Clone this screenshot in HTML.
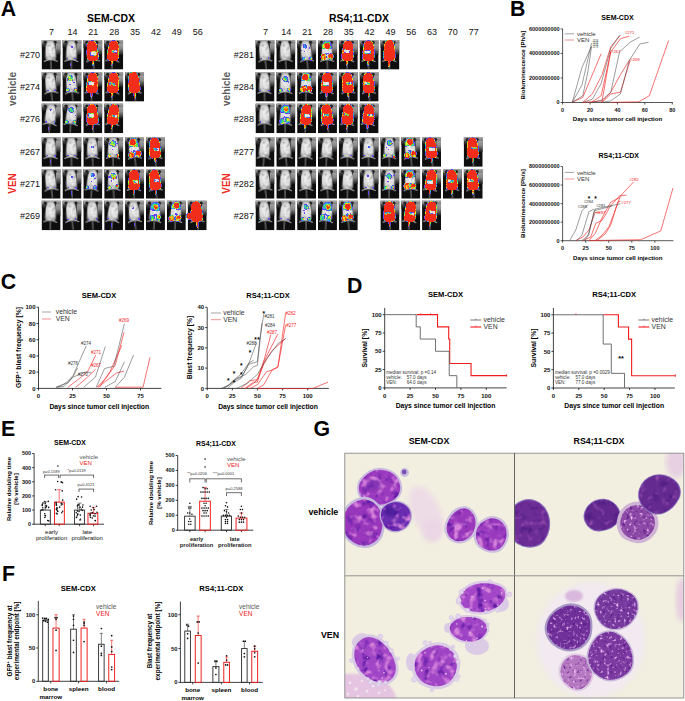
<!DOCTYPE html><html><head><meta charset="utf-8"><title>Figure</title><style>html,body{margin:0;padding:0;background:#fff;}svg{display:block;font-family:"Liberation Sans",sans-serif;}</style></head><body>
<svg width="685" height="701" viewBox="0 0 685 701">
<defs><linearGradient id="mgTop" x1="0" y1="0" x2="0" y2="1"><stop offset="0" stop-color="#aaaaaa"/><stop offset="1" stop-color="#7a7a7a"/></linearGradient><linearGradient id="mgR" x1="0" y1="0" x2="0" y2="1"><stop offset="0" stop-color="#b0b0b0"/><stop offset="0.55" stop-color="#8a8a8a"/><stop offset="1" stop-color="#1a1a1a"/></linearGradient><linearGradient id="mgL" x1="0" y1="0" x2="0" y2="1"><stop offset="0" stop-color="#777"/><stop offset="1" stop-color="#111"/></linearGradient><radialGradient id="mgBody" cx="0.5" cy="0.5" r="0.62"><stop offset="0" stop-color="#f4f4f4"/><stop offset="0.62" stop-color="#dcdcdc"/><stop offset="1" stop-color="#8c8c8c"/></radialGradient><linearGradient id="mgTail" x1="0" y1="0" x2="0" y2="1"><stop offset="0" stop-color="#d8d8d8"/><stop offset="1" stop-color="#a0a0a0"/></linearGradient><filter id="mblur" color-interpolation-filters="sRGB" x="-5%" y="-5%" width="110%" height="110%"><feTurbulence type="fractalNoise" baseFrequency="0.3" numOctaves="1" seed="3" result="n"/><feColorMatrix in="n" type="matrix" values="0 0 0 0 0.45  0 0 0 0 0.45  0 0 0 0 0.45  -1.6 0 0 0 0.85" result="d"/><feComposite in="d" in2="SourceGraphic" operator="in" result="d2"/><feMerge result="mm"><feMergeNode in="SourceGraphic"/><feMergeNode in="d2"/></feMerge><feGaussianBlur in="mm" stdDeviation="0.4"/></filter><filter id="heat" color-interpolation-filters="sRGB" x="-20%" y="-20%" width="140%" height="140%"><feGaussianBlur in="SourceGraphic" stdDeviation="0.7" result="b"/><feTurbulence type="fractalNoise" baseFrequency="0.45" numOctaves="2" seed="7" result="n"/><feComposite in="b" in2="n" operator="arithmetic" k1="1.5" k2="0.3" k3="0" k4="0" result="m"/><feColorMatrix in="m" type="matrix" values="0 0 0 1 0  0 0 0 1 0  0 0 0 1 0  0 0 0 1 0" result="g"/><feComponentTransfer in="g"><feFuncR type="table" tableValues="0.00 0.55 0.55 0.55 0.40 0.25 0.20 0.25 0.95 1.00 0.95 0.95 0.95 0.95 0.95 0.95 0.95"/><feFuncG type="table" tableValues="0.00 0.30 0.30 0.30 0.25 0.30 0.70 0.90 0.95 0.55 0.18 0.18 0.18 0.18 0.18 0.18 0.18"/><feFuncB type="table" tableValues="0.00 0.95 0.95 0.95 0.95 0.95 0.90 0.30 0.15 0.10 0.10 0.10 0.10 0.10 0.10 0.10 0.10"/><feFuncA type="discrete" tableValues="0 0 1 1 1 1 1 1 1 1"/></feComponentTransfer></filter><symbol id="mbg" viewBox="0 0 19 29.7" width="19" height="29.7"><rect width="19" height="29.7" fill="#0e0e0e"/><rect x="14.2" y="0" width="4.8" height="15" fill="url(#mgR)"/><rect x="0" y="0" width="4.0" height="8" fill="url(#mgL)"/><rect width="19" height="3.6" fill="url(#mgTop)"/><ellipse cx="3.6" cy="2.4" rx="1.7" ry="1.5" fill="#222"/><ellipse cx="13.4" cy="2.4" rx="1.7" ry="1.5" fill="#222"/></symbol><symbol id="mbody" viewBox="0 0 19 29.7" width="19" height="29.7" overflow="visible"><path d="M2.0 21.4 L6.5 20.0 M15.8 21.6 L11.5 20.0" stroke="#cdcdcd" stroke-width="1.0" fill="none"/><line x1="9.0" y1="21.2" x2="9.2" y2="29.7" stroke="url(#mgTail)" stroke-width="0.7"/><path d="M9 0.8 C7.2 0.8 6.0 1.5 5.3 2.9 C4.5 4.3 4.1 6 4.0 8 C3.8 11 3.6 14 3.5 17 C3.5 19.2 4.4 20.4 6.5 20.6 L11.5 20.6 C13.6 20.4 14.5 19.2 14.5 17 C14.4 14 14.2 11 14.0 8 C13.9 6 13.5 4.3 12.7 2.9 C12.0 1.5 10.8 0.8 9 0.8Z" fill="url(#mgBody)"/></symbol></defs>
<text x="0.80" y="15.90" font-size="21.3" font-weight="bold" text-anchor="start" fill="#000">A</text>
<text x="111.00" y="21.60" font-size="10.4" font-weight="bold" text-anchor="middle" fill="#000">SEM-CDX</text>
<text x="51.60" y="35.40" font-size="9" text-anchor="middle" fill="#111">7</text>
<text x="72.47" y="35.40" font-size="9" text-anchor="middle" fill="#111">14</text>
<text x="93.34" y="35.40" font-size="9" text-anchor="middle" fill="#111">21</text>
<text x="114.21" y="35.40" font-size="9" text-anchor="middle" fill="#111">28</text>
<text x="135.08" y="35.40" font-size="9" text-anchor="middle" fill="#111">35</text>
<text x="155.95" y="35.40" font-size="9" text-anchor="middle" fill="#111">42</text>
<text x="176.82" y="35.40" font-size="9" text-anchor="middle" fill="#111">49</text>
<text x="197.69" y="35.40" font-size="9" text-anchor="middle" fill="#111">56</text>
<g transform="translate(41.60 39.90)"><use href="#mbg"/><g transform="rotate(-1.4 9 12)"><g filter="url(#mblur)"><use href="#mbody"/></g></g></g>
<g transform="translate(62.47 39.90)"><use href="#mbg"/><g transform="rotate(0.6 9 12)"><g filter="url(#mblur)"><use href="#mbody"/></g><g filter="url(#heat)"><ellipse cx="8.60" cy="24.50" rx="0.60" ry="2.40" fill="#fff" fill-opacity="0.35"/><ellipse cx="5.34" cy="18.60" rx="1.10" ry="1.10" fill="#fff" fill-opacity="0.42"/><ellipse cx="12.68" cy="18.60" rx="1.10" ry="1.10" fill="#fff" fill-opacity="0.42"/><ellipse cx="9.70" cy="6.77" rx="1.20" ry="1.40" fill="#fff" fill-opacity="0.33"/></g></g></g>
<g transform="translate(83.34 39.90)"><use href="#mbg"/><g transform="rotate(-4.9 9 12)"><g filter="url(#mblur)"><use href="#mbody"/></g><g filter="url(#heat)"><path d="M9.00,0.60 L7.00,1.00 L5.20,2.70 L4.10,5.00 L3.80,8.00 L3.70,11.68 L14.30,11.68 L14.20,8.00 L13.90,5.00 L12.80,2.70 L11.00,1.00Z" fill="#fff" fill-opacity="1.00"/><path d="M3.60,15.82 L3.40,17.00 L3.70,19.30 L4.90,20.50 L6.50,21.00 L11.50,21.00 L13.10,20.50 L14.30,19.30 L14.60,17.00 L14.40,15.82Z" fill="#fff" fill-opacity="1.00"/><ellipse cx="8.70" cy="23.00" rx="0.80" ry="3.00" fill="#fff" fill-opacity="0.80"/><ellipse cx="4.30" cy="13.75" rx="0.90" ry="2.67" fill="#fff" fill-opacity="0.80"/><ellipse cx="13.70" cy="13.75" rx="0.90" ry="2.67" fill="#fff" fill-opacity="0.80"/><ellipse cx="5.40" cy="13.51" rx="1.16" ry="2.37" fill="#fff" fill-opacity="1.00"/></g></g></g>
<g transform="translate(104.21 39.90)"><use href="#mbg"/><g transform="rotate(5.1 9 12)"><g filter="url(#mblur)"><use href="#mbody"/></g><g filter="url(#heat)"><path d="M9.00,0.60 L7.00,1.00 L5.20,2.70 L4.10,5.00 L3.80,8.00 L3.70,9.82 L14.30,9.82 L14.20,8.00 L13.90,5.00 L12.80,2.70 L11.00,1.00Z" fill="#fff" fill-opacity="1.00"/><path d="M3.60,12.84 L3.40,17.00 L3.70,19.30 L4.90,20.50 L6.50,21.00 L11.50,21.00 L13.10,20.50 L14.30,19.30 L14.60,17.00 L14.40,12.84Z" fill="#fff" fill-opacity="1.00"/><ellipse cx="8.70" cy="23.00" rx="0.80" ry="3.00" fill="#fff" fill-opacity="0.80"/><ellipse cx="4.30" cy="11.33" rx="0.90" ry="2.11" fill="#fff" fill-opacity="0.80"/><ellipse cx="13.70" cy="11.33" rx="0.90" ry="2.11" fill="#fff" fill-opacity="0.80"/><ellipse cx="5.51" cy="11.10" rx="1.57" ry="1.81" fill="#fff" fill-opacity="1.00"/><ellipse cx="8.01" cy="11.33" rx="2.50" ry="1.51" fill="#fff" fill-opacity="0.45"/></g></g></g>
<text x="40.00" y="58.20" font-size="9" text-anchor="end" fill="#111">#270</text>
<g transform="translate(41.60 71.90)"><use href="#mbg"/><g transform="rotate(-5.1 9 12)"><g filter="url(#mblur)"><use href="#mbody"/></g><g filter="url(#heat)"><ellipse cx="5.78" cy="18.60" rx="1.10" ry="1.10" fill="#fff" fill-opacity="0.42"/><ellipse cx="12.75" cy="18.60" rx="1.10" ry="1.10" fill="#fff" fill-opacity="0.42"/></g></g></g>
<g transform="translate(62.47 71.90)"><use href="#mbg"/><g transform="rotate(-4.3 9 12)"><g filter="url(#mblur)"><use href="#mbody"/></g><g filter="url(#heat)"><ellipse cx="4.96" cy="17.66" rx="1.80" ry="2.00" fill="#fff" fill-opacity="0.60"/><ellipse cx="12.39" cy="18.51" rx="1.80" ry="2.00" fill="#fff" fill-opacity="0.60"/><ellipse cx="8.45" cy="6.26" rx="2.80" ry="3.20" fill="#fff" fill-opacity="0.42"/><ellipse cx="7.52" cy="12.76" rx="1.00" ry="1.00" fill="#fff" fill-opacity="0.28"/><ellipse cx="5.97" cy="7.85" rx="1.00" ry="1.20" fill="#fff" fill-opacity="0.30"/><ellipse cx="11.73" cy="10.97" rx="1.00" ry="1.20" fill="#fff" fill-opacity="0.30"/></g></g></g>
<g transform="translate(83.34 71.90)"><use href="#mbg"/><g transform="rotate(3.5 9 12)"><g filter="url(#mblur)"><use href="#mbody"/></g><g filter="url(#heat)"><path d="M9.00,0.60 L7.00,1.00 L5.20,2.70 L4.10,5.00 L3.80,8.00 L3.70,9.47 L14.30,9.47 L14.20,8.00 L13.90,5.00 L12.80,2.70 L11.00,1.00Z" fill="#fff" fill-opacity="1.00"/><path d="M3.60,13.45 L3.40,17.00 L3.70,19.30 L4.90,20.50 L6.50,21.00 L11.50,21.00 L13.10,20.50 L14.30,19.30 L14.60,17.00 L14.40,13.45Z" fill="#fff" fill-opacity="1.00"/><ellipse cx="8.70" cy="23.00" rx="0.80" ry="3.00" fill="#fff" fill-opacity="0.80"/><ellipse cx="4.30" cy="11.46" rx="0.90" ry="2.59" fill="#fff" fill-opacity="0.80"/><ellipse cx="13.70" cy="11.46" rx="0.90" ry="2.59" fill="#fff" fill-opacity="0.80"/><ellipse cx="12.34" cy="11.79" rx="1.60" ry="2.29" fill="#fff" fill-opacity="1.00"/></g></g></g>
<g transform="translate(104.21 71.90)"><use href="#mbg"/><g transform="rotate(4.9 9 12)"><g filter="url(#mblur)"><use href="#mbody"/></g><g filter="url(#heat)"><path d="M9.00,0.60 L7.00,1.00 L5.20,2.70 L4.10,5.00 L3.80,8.00 L3.70,10.59 L14.30,10.59 L14.20,8.00 L13.90,5.00 L12.80,2.70 L11.00,1.00Z" fill="#fff" fill-opacity="1.00"/><path d="M3.60,13.77 L3.40,17.00 L3.70,19.30 L4.90,20.50 L6.50,21.00 L11.50,21.00 L13.10,20.50 L14.30,19.30 L14.60,17.00 L14.40,13.77Z" fill="#fff" fill-opacity="1.00"/><ellipse cx="8.70" cy="23.00" rx="0.80" ry="3.00" fill="#fff" fill-opacity="0.80"/><ellipse cx="4.30" cy="12.18" rx="0.90" ry="2.19" fill="#fff" fill-opacity="0.80"/><ellipse cx="13.70" cy="12.18" rx="0.90" ry="2.19" fill="#fff" fill-opacity="0.80"/><ellipse cx="12.48" cy="11.69" rx="1.20" ry="1.89" fill="#fff" fill-opacity="1.00"/><ellipse cx="8.67" cy="12.18" rx="2.50" ry="1.59" fill="#fff" fill-opacity="0.45"/></g></g></g>
<g transform="translate(125.08 71.90)"><use href="#mbg"/><g transform="rotate(-4.3 9 12)"><g filter="url(#mblur)"><use href="#mbody"/></g><g filter="url(#heat)"><path d="M9.00,0.60 L7.00,1.00 L5.20,2.70 L4.10,5.00 L3.80,8.00 L3.70,12.00 L14.30,12.00 L14.20,8.00 L13.90,5.00 L12.80,2.70 L11.00,1.00Z" fill="#fff" fill-opacity="1.00"/><path d="M3.60,11.00 L3.40,17.00 L3.70,19.30 L4.90,20.50 L6.50,21.00 L11.50,21.00 L13.10,20.50 L14.30,19.30 L14.60,17.00 L14.40,11.00Z" fill="#fff" fill-opacity="1.00"/><ellipse cx="8.70" cy="23.50" rx="0.90" ry="4.00" fill="#fff" fill-opacity="0.90"/><ellipse cx="9.00" cy="2.00" rx="4.00" ry="2.00" fill="#fff" fill-opacity="0.90"/></g></g></g>
<text x="40.00" y="90.20" font-size="9" text-anchor="end" fill="#111">#274</text>
<g transform="translate(41.60 103.50)"><use href="#mbg"/><g transform="rotate(5.7 9 12)"><g filter="url(#mblur)"><use href="#mbody"/></g><g filter="url(#heat)"><ellipse cx="8.60" cy="24.50" rx="0.60" ry="2.40" fill="#fff" fill-opacity="0.35"/><ellipse cx="5.35" cy="18.60" rx="1.10" ry="1.10" fill="#fff" fill-opacity="0.42"/><ellipse cx="13.38" cy="18.60" rx="1.10" ry="1.10" fill="#fff" fill-opacity="0.42"/><ellipse cx="8.54" cy="6.31" rx="1.20" ry="1.40" fill="#fff" fill-opacity="0.33"/></g></g></g>
<g transform="translate(62.47 103.50)"><use href="#mbg"/><g transform="rotate(5.2 9 12)"><g filter="url(#mblur)"><use href="#mbody"/></g><g filter="url(#heat)"><ellipse cx="5.02" cy="18.71" rx="1.80" ry="2.00" fill="#fff" fill-opacity="0.55"/><ellipse cx="12.40" cy="18.17" rx="1.80" ry="2.00" fill="#fff" fill-opacity="0.55"/><ellipse cx="8.64" cy="6.57" rx="2.60" ry="3.00" fill="#fff" fill-opacity="0.39"/><ellipse cx="7.32" cy="11.87" rx="1.00" ry="1.00" fill="#fff" fill-opacity="0.28"/><ellipse cx="5.45" cy="6.24" rx="1.00" ry="1.20" fill="#fff" fill-opacity="0.30"/><ellipse cx="12.95" cy="11.47" rx="1.00" ry="1.20" fill="#fff" fill-opacity="0.30"/></g></g></g>
<g transform="translate(83.34 103.50)"><use href="#mbg"/><g transform="rotate(-3.1 9 12)"><g filter="url(#mblur)"><use href="#mbody"/></g><g filter="url(#heat)"><path d="M9.00,0.60 L7.00,1.00 L5.20,2.70 L4.10,5.00 L3.80,8.00 L3.70,9.79 L14.30,9.79 L14.20,8.00 L13.90,5.00 L12.80,2.70 L11.00,1.00Z" fill="#fff" fill-opacity="1.00"/><path d="M3.60,14.01 L3.40,17.00 L3.70,19.30 L4.90,20.50 L6.50,21.00 L11.50,21.00 L13.10,20.50 L14.30,19.30 L14.60,17.00 L14.40,14.01Z" fill="#fff" fill-opacity="1.00"/><ellipse cx="8.70" cy="23.00" rx="0.80" ry="3.00" fill="#fff" fill-opacity="0.80"/><ellipse cx="4.30" cy="11.90" rx="0.90" ry="2.71" fill="#fff" fill-opacity="0.80"/><ellipse cx="13.70" cy="11.90" rx="0.90" ry="2.71" fill="#fff" fill-opacity="0.80"/><ellipse cx="12.44" cy="11.97" rx="1.59" ry="2.41" fill="#fff" fill-opacity="1.00"/></g></g></g>
<g transform="translate(104.21 103.50)"><use href="#mbg"/><g transform="rotate(5.5 9 12)"><g filter="url(#mblur)"><use href="#mbody"/></g><g filter="url(#heat)"><path d="M9.00,0.60 L7.00,1.00 L5.20,2.70 L4.10,5.00 L3.80,8.00 L3.70,10.72 L14.30,10.72 L14.20,8.00 L13.90,5.00 L12.80,2.70 L11.00,1.00Z" fill="#fff" fill-opacity="1.00"/><path d="M3.60,13.74 L3.40,17.00 L3.70,19.30 L4.90,20.50 L6.50,21.00 L11.50,21.00 L13.10,20.50 L14.30,19.30 L14.60,17.00 L14.40,13.74Z" fill="#fff" fill-opacity="1.00"/><ellipse cx="8.70" cy="23.00" rx="0.80" ry="3.00" fill="#fff" fill-opacity="0.80"/><ellipse cx="4.30" cy="12.23" rx="0.90" ry="2.11" fill="#fff" fill-opacity="0.80"/><ellipse cx="13.70" cy="12.23" rx="0.90" ry="2.11" fill="#fff" fill-opacity="0.80"/><ellipse cx="5.45" cy="11.70" rx="1.30" ry="1.81" fill="#fff" fill-opacity="1.00"/><ellipse cx="8.59" cy="12.23" rx="2.50" ry="1.51" fill="#fff" fill-opacity="0.45"/></g></g></g>
<text x="40.00" y="121.80" font-size="9" text-anchor="end" fill="#111">#276</text>
<g transform="translate(41.60 137.10)"><use href="#mbg"/><g transform="rotate(-0.2 9 12)"><g filter="url(#mblur)"><use href="#mbody"/></g><g filter="url(#heat)"><ellipse cx="8.60" cy="24.50" rx="0.60" ry="2.40" fill="#fff" fill-opacity="0.35"/><ellipse cx="5.77" cy="18.60" rx="1.10" ry="1.10" fill="#fff" fill-opacity="0.42"/><ellipse cx="13.66" cy="18.60" rx="1.10" ry="1.10" fill="#fff" fill-opacity="0.42"/></g></g></g>
<g transform="translate(62.47 137.10)"><use href="#mbg"/><g transform="rotate(0.2 9 12)"><g filter="url(#mblur)"><use href="#mbody"/></g><g filter="url(#heat)"><ellipse cx="8.60" cy="24.50" rx="0.60" ry="2.40" fill="#fff" fill-opacity="0.35"/><ellipse cx="5.45" cy="18.60" rx="1.10" ry="1.10" fill="#fff" fill-opacity="0.42"/><ellipse cx="12.48" cy="18.60" rx="1.10" ry="1.10" fill="#fff" fill-opacity="0.42"/></g></g></g>
<g transform="translate(83.34 137.10)"><use href="#mbg"/><g transform="rotate(-1.2 9 12)"><g filter="url(#mblur)"><use href="#mbody"/></g><g filter="url(#heat)"><ellipse cx="5.75" cy="18.60" rx="1.10" ry="1.10" fill="#fff" fill-opacity="0.42"/><ellipse cx="12.26" cy="18.60" rx="1.10" ry="1.10" fill="#fff" fill-opacity="0.42"/><ellipse cx="9.29" cy="9.91" rx="1.20" ry="1.40" fill="#fff" fill-opacity="0.33"/></g></g></g>
<g transform="translate(104.21 137.10)"><use href="#mbg"/><g transform="rotate(1.0 9 12)"><g filter="url(#mblur)"><use href="#mbody"/></g><g filter="url(#heat)"><ellipse cx="5.26" cy="18.83" rx="1.80" ry="2.00" fill="#fff" fill-opacity="0.61"/><ellipse cx="13.57" cy="18.64" rx="1.80" ry="2.00" fill="#fff" fill-opacity="0.61"/><ellipse cx="8.87" cy="6.56" rx="2.85" ry="3.25" fill="#fff" fill-opacity="0.43"/><ellipse cx="8.50" cy="12.13" rx="1.00" ry="1.00" fill="#fff" fill-opacity="0.28"/><ellipse cx="5.33" cy="7.15" rx="1.00" ry="1.20" fill="#fff" fill-opacity="0.30"/><ellipse cx="13.40" cy="6.37" rx="1.00" ry="1.20" fill="#fff" fill-opacity="0.30"/></g></g></g>
<g transform="translate(125.08 137.10)"><use href="#mbg"/><g transform="rotate(-5.4 9 12)"><g filter="url(#mblur)"><use href="#mbody"/></g><g filter="url(#heat)"><path d="M9.00,0.60 L7.00,1.00 L5.20,2.70 L4.10,5.00 L3.80,8.00 L3.70,10.31 L14.30,10.31 L14.20,8.00 L13.90,5.00 L12.80,2.70 L11.00,1.00Z" fill="#fff" fill-opacity="0.40"/><ellipse cx="8.53" cy="5.02" rx="2.80" ry="3.20" fill="#fff" fill-opacity="0.54"/><ellipse cx="5.80" cy="17.58" rx="3.10" ry="3.20" fill="#fff" fill-opacity="0.66"/><ellipse cx="12.99" cy="17.07" rx="3.10" ry="3.20" fill="#fff" fill-opacity="0.66"/><ellipse cx="8.94" cy="13.49" rx="1.50" ry="1.20" fill="#fff" fill-opacity="0.30"/></g></g></g>
<g transform="translate(145.95 137.10)"><use href="#mbg"/><g transform="rotate(-2.9 9 12)"><g filter="url(#mblur)"><use href="#mbody"/></g><g filter="url(#heat)"><path d="M9.00,0.60 L7.00,1.00 L5.20,2.70 L4.10,5.00 L3.80,8.00 L3.70,10.90 L14.30,10.90 L14.20,8.00 L13.90,5.00 L12.80,2.70 L11.00,1.00Z" fill="#fff" fill-opacity="1.00"/><path d="M3.60,14.08 L3.40,17.00 L3.70,19.30 L4.90,20.50 L6.50,21.00 L11.50,21.00 L13.10,20.50 L14.30,19.30 L14.60,17.00 L14.40,14.08Z" fill="#fff" fill-opacity="1.00"/><ellipse cx="8.70" cy="23.00" rx="0.80" ry="3.00" fill="#fff" fill-opacity="0.80"/><ellipse cx="4.30" cy="12.49" rx="0.90" ry="2.19" fill="#fff" fill-opacity="0.80"/><ellipse cx="13.70" cy="12.49" rx="0.90" ry="2.19" fill="#fff" fill-opacity="0.80"/><ellipse cx="5.87" cy="12.89" rx="1.68" ry="1.89" fill="#fff" fill-opacity="1.00"/><ellipse cx="9.10" cy="12.49" rx="2.50" ry="1.59" fill="#fff" fill-opacity="0.45"/></g></g></g>
<text x="40.00" y="155.40" font-size="9" text-anchor="end" fill="#111">#267</text>
<g transform="translate(41.60 169.00)"><use href="#mbg"/><g transform="rotate(-5.8 9 12)"><g filter="url(#mblur)"><use href="#mbody"/></g><g filter="url(#heat)"><ellipse cx="5.63" cy="18.60" rx="1.10" ry="1.10" fill="#fff" fill-opacity="0.42"/><ellipse cx="12.32" cy="18.60" rx="1.10" ry="1.10" fill="#fff" fill-opacity="0.42"/></g></g></g>
<g transform="translate(62.47 169.00)"><use href="#mbg"/><g transform="rotate(-1.8 9 12)"><g filter="url(#mblur)"><use href="#mbody"/></g><g filter="url(#heat)"><ellipse cx="8.60" cy="24.50" rx="0.60" ry="2.40" fill="#fff" fill-opacity="0.35"/><ellipse cx="5.56" cy="18.60" rx="1.10" ry="1.10" fill="#fff" fill-opacity="0.42"/><ellipse cx="13.39" cy="18.60" rx="1.10" ry="1.10" fill="#fff" fill-opacity="0.42"/><ellipse cx="9.68" cy="7.84" rx="1.20" ry="1.40" fill="#fff" fill-opacity="0.33"/></g></g></g>
<g transform="translate(83.34 169.00)"><use href="#mbg"/><g transform="rotate(4.8 9 12)"><g filter="url(#mblur)"><use href="#mbody"/></g><g filter="url(#heat)"><ellipse cx="4.72" cy="18.72" rx="1.80" ry="2.00" fill="#fff" fill-opacity="0.45"/><ellipse cx="12.09" cy="18.23" rx="1.80" ry="2.00" fill="#fff" fill-opacity="0.45"/><ellipse cx="8.91" cy="5.78" rx="2.20" ry="2.60" fill="#fff" fill-opacity="0.33"/><ellipse cx="8.50" cy="12.76" rx="1.00" ry="1.00" fill="#fff" fill-opacity="0.28"/><ellipse cx="5.16" cy="9.40" rx="1.00" ry="1.20" fill="#fff" fill-opacity="0.30"/><ellipse cx="11.40" cy="9.29" rx="1.00" ry="1.20" fill="#fff" fill-opacity="0.30"/></g></g></g>
<g transform="translate(104.21 169.00)"><use href="#mbg"/><g transform="rotate(-1.9 9 12)"><g filter="url(#mblur)"><use href="#mbody"/></g><g filter="url(#heat)"><ellipse cx="5.06" cy="18.28" rx="1.80" ry="2.00" fill="#fff" fill-opacity="0.62"/><ellipse cx="12.72" cy="17.57" rx="1.80" ry="2.00" fill="#fff" fill-opacity="0.62"/><ellipse cx="9.29" cy="7.25" rx="2.90" ry="3.30" fill="#fff" fill-opacity="0.43"/><ellipse cx="7.52" cy="11.74" rx="1.00" ry="1.00" fill="#fff" fill-opacity="0.28"/><ellipse cx="4.87" cy="8.09" rx="1.00" ry="1.20" fill="#fff" fill-opacity="0.30"/><ellipse cx="11.86" cy="8.82" rx="1.00" ry="1.20" fill="#fff" fill-opacity="0.30"/></g></g></g>
<g transform="translate(125.08 169.00)"><use href="#mbg"/><g transform="rotate(0.7 9 12)"><g filter="url(#mblur)"><use href="#mbody"/></g><g filter="url(#heat)"><path d="M9.00,0.60 L7.00,1.00 L5.20,2.70 L4.10,5.00 L3.80,8.00 L3.70,11.53 L14.30,11.53 L14.20,8.00 L13.90,5.00 L12.80,2.70 L11.00,1.00Z" fill="#fff" fill-opacity="1.00"/><path d="M3.60,14.39 L3.40,17.00 L3.70,19.30 L4.90,20.50 L6.50,21.00 L11.50,21.00 L13.10,20.50 L14.30,19.30 L14.60,17.00 L14.40,14.39Z" fill="#fff" fill-opacity="1.00"/><ellipse cx="8.70" cy="23.00" rx="0.80" ry="3.00" fill="#fff" fill-opacity="0.80"/><ellipse cx="4.30" cy="12.96" rx="0.90" ry="2.03" fill="#fff" fill-opacity="0.80"/><ellipse cx="13.70" cy="12.96" rx="0.90" ry="2.03" fill="#fff" fill-opacity="0.80"/><ellipse cx="5.43" cy="13.03" rx="1.47" ry="1.73" fill="#fff" fill-opacity="1.00"/><ellipse cx="8.18" cy="12.96" rx="2.50" ry="1.43" fill="#fff" fill-opacity="0.45"/></g></g></g>
<g transform="translate(145.95 169.00)"><use href="#mbg"/><g transform="rotate(-5.5 9 12)"><g filter="url(#mblur)"><use href="#mbody"/></g><g filter="url(#heat)"><path d="M9.00,0.60 L7.00,1.00 L5.20,2.70 L4.10,5.00 L3.80,8.00 L3.70,9.89 L14.30,9.89 L14.20,8.00 L13.90,5.00 L12.80,2.70 L11.00,1.00Z" fill="#fff" fill-opacity="1.00"/><path d="M3.60,12.91 L3.40,17.00 L3.70,19.30 L4.90,20.50 L6.50,21.00 L11.50,21.00 L13.10,20.50 L14.30,19.30 L14.60,17.00 L14.40,12.91Z" fill="#fff" fill-opacity="1.00"/><ellipse cx="8.70" cy="23.00" rx="0.80" ry="3.00" fill="#fff" fill-opacity="0.80"/><ellipse cx="4.30" cy="11.40" rx="0.90" ry="2.11" fill="#fff" fill-opacity="0.80"/><ellipse cx="13.70" cy="11.40" rx="0.90" ry="2.11" fill="#fff" fill-opacity="0.80"/><ellipse cx="6.26" cy="11.83" rx="1.29" ry="1.81" fill="#fff" fill-opacity="1.00"/><ellipse cx="7.53" cy="11.40" rx="2.50" ry="1.51" fill="#fff" fill-opacity="0.45"/></g></g></g>
<text x="40.00" y="187.30" font-size="9" text-anchor="end" fill="#111">#271</text>
<g transform="translate(41.60 200.60)"><use href="#mbg"/><g transform="rotate(1.8 9 12)"><g filter="url(#mblur)"><use href="#mbody"/></g></g></g>
<g transform="translate(62.47 200.60)"><use href="#mbg"/><g transform="rotate(-4.9 9 12)"><g filter="url(#mblur)"><use href="#mbody"/></g><g filter="url(#heat)"><ellipse cx="5.16" cy="18.60" rx="1.10" ry="1.10" fill="#fff" fill-opacity="0.42"/><ellipse cx="12.54" cy="18.60" rx="1.10" ry="1.10" fill="#fff" fill-opacity="0.42"/></g></g></g>
<g transform="translate(83.34 200.60)"><use href="#mbg"/><g transform="rotate(-1.4 9 12)"><g filter="url(#mblur)"><use href="#mbody"/></g><g filter="url(#heat)"><ellipse cx="5.36" cy="18.60" rx="1.10" ry="1.10" fill="#fff" fill-opacity="0.42"/><ellipse cx="12.85" cy="18.60" rx="1.10" ry="1.10" fill="#fff" fill-opacity="0.42"/></g></g></g>
<g transform="translate(104.21 200.60)"><use href="#mbg"/><g transform="rotate(5.5 9 12)"><g filter="url(#mblur)"><use href="#mbody"/></g><g filter="url(#heat)"><ellipse cx="8.60" cy="24.50" rx="0.60" ry="2.40" fill="#fff" fill-opacity="0.35"/><ellipse cx="4.60" cy="18.60" rx="1.10" ry="1.10" fill="#fff" fill-opacity="0.42"/><ellipse cx="12.60" cy="18.60" rx="1.10" ry="1.10" fill="#fff" fill-opacity="0.42"/></g></g></g>
<g transform="translate(125.08 200.60)"><use href="#mbg"/><g transform="rotate(-5.2 9 12)"><g filter="url(#mblur)"><use href="#mbody"/></g><g filter="url(#heat)"><ellipse cx="8.60" cy="24.50" rx="0.60" ry="2.40" fill="#fff" fill-opacity="0.35"/><ellipse cx="4.32" cy="18.60" rx="1.10" ry="1.10" fill="#fff" fill-opacity="0.42"/><ellipse cx="13.06" cy="18.60" rx="1.10" ry="1.10" fill="#fff" fill-opacity="0.42"/><ellipse cx="8.56" cy="7.71" rx="1.20" ry="1.40" fill="#fff" fill-opacity="0.33"/></g></g></g>
<g transform="translate(145.95 200.60)"><use href="#mbg"/><g transform="rotate(4.3 9 12)"><g filter="url(#mblur)"><use href="#mbody"/></g><g filter="url(#heat)"><path d="M9.00,0.60 L7.00,1.00 L5.20,2.70 L4.10,5.00 L3.80,8.00 L3.70,10.42 L14.30,10.42 L14.20,8.00 L13.90,5.00 L12.80,2.70 L11.00,1.00Z" fill="#fff" fill-opacity="0.33"/><ellipse cx="9.52" cy="6.08" rx="2.20" ry="2.60" fill="#fff" fill-opacity="0.42"/><ellipse cx="6.60" cy="17.81" rx="2.50" ry="3.20" fill="#fff" fill-opacity="0.45"/><ellipse cx="12.87" cy="16.97" rx="2.50" ry="3.20" fill="#fff" fill-opacity="0.45"/><ellipse cx="9.44" cy="14.11" rx="1.50" ry="1.20" fill="#fff" fill-opacity="0.30"/></g></g></g>
<g transform="translate(166.82 200.60)"><use href="#mbg"/><g transform="rotate(3.6 9 12)"><g filter="url(#mblur)"><use href="#mbody"/></g><g filter="url(#heat)"><path d="M9.00,0.60 L7.00,1.00 L5.20,2.70 L4.10,5.00 L3.80,8.00 L3.70,8.68 L14.30,8.68 L14.20,8.00 L13.90,5.00 L12.80,2.70 L11.00,1.00Z" fill="#fff" fill-opacity="0.38"/><ellipse cx="9.35" cy="4.81" rx="2.60" ry="3.00" fill="#fff" fill-opacity="0.50"/><ellipse cx="5.23" cy="17.98" rx="2.90" ry="3.20" fill="#fff" fill-opacity="0.59"/><ellipse cx="11.67" cy="17.45" rx="2.90" ry="3.20" fill="#fff" fill-opacity="0.59"/><ellipse cx="9.11" cy="13.27" rx="1.50" ry="1.20" fill="#fff" fill-opacity="0.30"/></g></g></g>
<g transform="translate(187.69 200.60)"><use href="#mbg"/><g transform="rotate(-4.5 9 12)"><g filter="url(#mblur)"><use href="#mbody"/></g><g filter="url(#heat)"><path d="M9.00,0.60 L7.00,1.00 L5.20,2.70 L4.10,5.00 L3.80,8.00 L3.70,11.00 L14.30,11.00 L14.20,8.00 L13.90,5.00 L12.80,2.70 L11.00,1.00Z" fill="#fff" fill-opacity="1.00"/><path d="M3.60,10.00 L3.40,17.00 L3.70,19.30 L4.90,20.50 L6.50,21.00 L11.50,21.00 L13.10,20.50 L14.30,19.30 L14.60,17.00 L14.40,10.00Z" fill="#fff" fill-opacity="1.00"/><ellipse cx="8.70" cy="23.50" rx="0.90" ry="4.00" fill="#fff" fill-opacity="0.90"/><ellipse cx="9.00" cy="3.00" rx="2.60" ry="2.50" fill="#fff" fill-opacity="0.90"/><ellipse cx="3.00" cy="15.00" rx="4.50" ry="3.20" fill="#fff" fill-opacity="1.00"/><ellipse cx="13.50" cy="6.50" rx="1.00" ry="1.20" fill="#fff" fill-opacity="0.35"/></g></g></g>
<text x="40.00" y="218.90" font-size="9" text-anchor="end" fill="#111">#269</text>
<text x="16.20" y="89.00" font-size="10" font-weight="bold" text-anchor="middle" fill="#5a5a5a" transform="rotate(-90 16.2 89)">vehicle</text>
<text x="16.20" y="183.50" font-size="10" font-weight="bold" text-anchor="middle" fill="#ee2a24" transform="rotate(-90 16.2 183.5)">VEN</text>
<text x="359.00" y="21.60" font-size="10.4" font-weight="bold" text-anchor="middle" fill="#000">RS4;11-CDX</text>
<text x="265.50" y="35.40" font-size="9" text-anchor="middle" fill="#111">7</text>
<text x="286.32" y="35.40" font-size="9" text-anchor="middle" fill="#111">14</text>
<text x="307.14" y="35.40" font-size="9" text-anchor="middle" fill="#111">21</text>
<text x="327.96" y="35.40" font-size="9" text-anchor="middle" fill="#111">28</text>
<text x="348.78" y="35.40" font-size="9" text-anchor="middle" fill="#111">35</text>
<text x="369.60" y="35.40" font-size="9" text-anchor="middle" fill="#111">42</text>
<text x="390.42" y="35.40" font-size="9" text-anchor="middle" fill="#111">49</text>
<text x="411.24" y="35.40" font-size="9" text-anchor="middle" fill="#111">56</text>
<text x="432.06" y="35.40" font-size="9" text-anchor="middle" fill="#111">63</text>
<text x="452.88" y="35.40" font-size="9" text-anchor="middle" fill="#111">70</text>
<text x="473.70" y="35.40" font-size="9" text-anchor="middle" fill="#111">77</text>
<g transform="translate(255.50 39.90)"><use href="#mbg"/><g transform="rotate(-5.3 9 12)"><g filter="url(#mblur)"><use href="#mbody"/></g><g filter="url(#heat)"><ellipse cx="5.47" cy="18.60" rx="1.10" ry="1.10" fill="#fff" fill-opacity="0.42"/><ellipse cx="12.27" cy="18.60" rx="1.10" ry="1.10" fill="#fff" fill-opacity="0.42"/></g></g></g>
<g transform="translate(276.32 39.90)"><use href="#mbg"/><g transform="rotate(-2.2 9 12)"><g filter="url(#mblur)"><use href="#mbody"/></g></g></g>
<g transform="translate(297.14 39.90)"><use href="#mbg"/><g transform="rotate(-5.5 9 12)"><g filter="url(#mblur)"><use href="#mbody"/></g><g filter="url(#heat)"><ellipse cx="5.82" cy="18.60" rx="1.80" ry="2.00" fill="#fff" fill-opacity="0.45"/><ellipse cx="12.99" cy="18.95" rx="1.80" ry="2.00" fill="#fff" fill-opacity="0.45"/><ellipse cx="8.50" cy="6.16" rx="2.20" ry="2.60" fill="#fff" fill-opacity="0.33"/><ellipse cx="8.00" cy="11.30" rx="1.00" ry="1.00" fill="#fff" fill-opacity="0.28"/><ellipse cx="5.03" cy="9.84" rx="1.00" ry="1.20" fill="#fff" fill-opacity="0.30"/><ellipse cx="13.24" cy="8.35" rx="1.00" ry="1.20" fill="#fff" fill-opacity="0.30"/></g></g></g>
<g transform="translate(317.96 39.90)"><use href="#mbg"/><g transform="rotate(-1.5 9 12)"><g filter="url(#mblur)"><use href="#mbody"/></g><g filter="url(#heat)"><path d="M9.00,0.60 L7.00,1.00 L5.20,2.70 L4.10,5.00 L3.80,8.00 L3.70,8.90 L14.30,8.90 L14.20,8.00 L13.90,5.00 L12.80,2.70 L11.00,1.00Z" fill="#fff" fill-opacity="0.39"/><ellipse cx="9.42" cy="6.18" rx="2.70" ry="3.10" fill="#fff" fill-opacity="0.52"/><ellipse cx="5.51" cy="17.05" rx="3.00" ry="3.20" fill="#fff" fill-opacity="0.62"/><ellipse cx="12.64" cy="16.83" rx="3.00" ry="3.20" fill="#fff" fill-opacity="0.62"/><ellipse cx="8.98" cy="13.51" rx="1.50" ry="1.20" fill="#fff" fill-opacity="0.30"/></g></g></g>
<g transform="translate(338.78 39.90)"><use href="#mbg"/><g transform="rotate(2.7 9 12)"><g filter="url(#mblur)"><use href="#mbody"/></g><g filter="url(#heat)"><path d="M9.00,0.60 L7.00,1.00 L5.20,2.70 L4.10,5.00 L3.80,8.00 L3.70,9.73 L14.30,9.73 L14.20,8.00 L13.90,5.00 L12.80,2.70 L11.00,1.00Z" fill="#fff" fill-opacity="1.00"/><path d="M3.60,13.23 L3.40,17.00 L3.70,19.30 L4.90,20.50 L6.50,21.00 L11.50,21.00 L13.10,20.50 L14.30,19.30 L14.60,17.00 L14.40,13.23Z" fill="#fff" fill-opacity="1.00"/><ellipse cx="8.70" cy="23.00" rx="0.80" ry="3.00" fill="#fff" fill-opacity="0.80"/><ellipse cx="4.30" cy="11.48" rx="0.90" ry="2.35" fill="#fff" fill-opacity="0.80"/><ellipse cx="13.70" cy="11.48" rx="0.90" ry="2.35" fill="#fff" fill-opacity="0.80"/><ellipse cx="12.57" cy="11.42" rx="1.62" ry="2.05" fill="#fff" fill-opacity="1.00"/></g></g></g>
<g transform="translate(359.60 39.90)"><use href="#mbg"/><g transform="rotate(0.5 9 12)"><g filter="url(#mblur)"><use href="#mbody"/></g><g filter="url(#heat)"><path d="M9.00,0.60 L7.00,1.00 L5.20,2.70 L4.10,5.00 L3.80,8.00 L3.70,10.21 L14.30,10.21 L14.20,8.00 L13.90,5.00 L12.80,2.70 L11.00,1.00Z" fill="#fff" fill-opacity="1.00"/><path d="M3.60,13.87 L3.40,17.00 L3.70,19.30 L4.90,20.50 L6.50,21.00 L11.50,21.00 L13.10,20.50 L14.30,19.30 L14.60,17.00 L14.40,13.87Z" fill="#fff" fill-opacity="1.00"/><ellipse cx="8.70" cy="23.00" rx="0.80" ry="3.00" fill="#fff" fill-opacity="0.80"/><ellipse cx="4.30" cy="12.04" rx="0.90" ry="2.43" fill="#fff" fill-opacity="0.80"/><ellipse cx="13.70" cy="12.04" rx="0.90" ry="2.43" fill="#fff" fill-opacity="0.80"/><ellipse cx="12.19" cy="11.60" rx="1.13" ry="2.13" fill="#fff" fill-opacity="1.00"/></g></g></g>
<g transform="translate(380.42 39.90)"><use href="#mbg"/><g transform="rotate(0.3 9 12)"><g filter="url(#mblur)"><use href="#mbody"/></g><g filter="url(#heat)"><path d="M9.00,0.60 L7.00,1.00 L5.20,2.70 L4.10,5.00 L3.80,8.00 L3.70,12.00 L14.30,12.00 L14.20,8.00 L13.90,5.00 L12.80,2.70 L11.00,1.00Z" fill="#fff" fill-opacity="1.00"/><path d="M3.60,11.00 L3.40,17.00 L3.70,19.30 L4.90,20.50 L6.50,21.00 L11.50,21.00 L13.10,20.50 L14.30,19.30 L14.60,17.00 L14.40,11.00Z" fill="#fff" fill-opacity="1.00"/><ellipse cx="8.70" cy="23.50" rx="0.90" ry="4.00" fill="#fff" fill-opacity="0.90"/><ellipse cx="9.00" cy="2.00" rx="4.00" ry="2.00" fill="#fff" fill-opacity="0.90"/></g></g></g>
<text x="253.90" y="58.20" font-size="9" text-anchor="end" fill="#111">#281</text>
<g transform="translate(255.50 71.90)"><use href="#mbg"/><g transform="rotate(-0.1 9 12)"><g filter="url(#mblur)"><use href="#mbody"/></g><g filter="url(#heat)"><ellipse cx="8.60" cy="24.50" rx="0.60" ry="2.40" fill="#fff" fill-opacity="0.35"/><ellipse cx="4.31" cy="18.60" rx="1.10" ry="1.10" fill="#fff" fill-opacity="0.42"/><ellipse cx="13.33" cy="18.60" rx="1.10" ry="1.10" fill="#fff" fill-opacity="0.42"/></g></g></g>
<g transform="translate(276.32 71.90)"><use href="#mbg"/><g transform="rotate(-0.3 9 12)"><g filter="url(#mblur)"><use href="#mbody"/></g><g filter="url(#heat)"><ellipse cx="4.58" cy="18.20" rx="1.80" ry="2.00" fill="#fff" fill-opacity="0.53"/><ellipse cx="12.66" cy="18.11" rx="1.80" ry="2.00" fill="#fff" fill-opacity="0.53"/><ellipse cx="9.17" cy="6.94" rx="2.50" ry="2.90" fill="#fff" fill-opacity="0.38"/><ellipse cx="8.39" cy="11.53" rx="1.00" ry="1.00" fill="#fff" fill-opacity="0.28"/><ellipse cx="6.91" cy="7.32" rx="1.00" ry="1.20" fill="#fff" fill-opacity="0.30"/><ellipse cx="11.97" cy="9.83" rx="1.00" ry="1.20" fill="#fff" fill-opacity="0.30"/></g></g></g>
<g transform="translate(297.14 71.90)"><use href="#mbg"/><g transform="rotate(1.2 9 12)"><g filter="url(#mblur)"><use href="#mbody"/></g><g filter="url(#heat)"><path d="M9.00,0.60 L7.00,1.00 L5.20,2.70 L4.10,5.00 L3.80,8.00 L3.70,9.19 L14.30,9.19 L14.20,8.00 L13.90,5.00 L12.80,2.70 L11.00,1.00Z" fill="#fff" fill-opacity="0.40"/><ellipse cx="8.20" cy="5.25" rx="2.80" ry="3.20" fill="#fff" fill-opacity="0.54"/><ellipse cx="6.32" cy="17.28" rx="3.10" ry="3.20" fill="#fff" fill-opacity="0.66"/><ellipse cx="12.33" cy="16.86" rx="3.10" ry="3.20" fill="#fff" fill-opacity="0.66"/><ellipse cx="8.88" cy="13.79" rx="1.50" ry="1.20" fill="#fff" fill-opacity="0.30"/></g></g></g>
<g transform="translate(317.96 71.90)"><use href="#mbg"/><g transform="rotate(1.7 9 12)"><g filter="url(#mblur)"><use href="#mbody"/></g><g filter="url(#heat)"><path d="M9.00,0.60 L7.00,1.00 L5.20,2.70 L4.10,5.00 L3.80,8.00 L3.70,10.12 L14.30,10.12 L14.20,8.00 L13.90,5.00 L12.80,2.70 L11.00,1.00Z" fill="#fff" fill-opacity="1.00"/><path d="M3.60,13.78 L3.40,17.00 L3.70,19.30 L4.90,20.50 L6.50,21.00 L11.50,21.00 L13.10,20.50 L14.30,19.30 L14.60,17.00 L14.40,13.78Z" fill="#fff" fill-opacity="1.00"/><ellipse cx="8.70" cy="23.00" rx="0.80" ry="3.00" fill="#fff" fill-opacity="0.80"/><ellipse cx="4.30" cy="11.95" rx="0.90" ry="2.43" fill="#fff" fill-opacity="0.80"/><ellipse cx="13.70" cy="11.95" rx="0.90" ry="2.43" fill="#fff" fill-opacity="0.80"/><ellipse cx="12.12" cy="11.86" rx="1.11" ry="2.13" fill="#fff" fill-opacity="1.00"/></g></g></g>
<g transform="translate(338.78 71.90)"><use href="#mbg"/><g transform="rotate(-3.6 9 12)"><g filter="url(#mblur)"><use href="#mbody"/></g><g filter="url(#heat)"><path d="M9.00,0.60 L7.00,1.00 L5.20,2.70 L4.10,5.00 L3.80,8.00 L3.70,9.67 L14.30,9.67 L14.20,8.00 L13.90,5.00 L12.80,2.70 L11.00,1.00Z" fill="#fff" fill-opacity="1.00"/><path d="M3.60,12.69 L3.40,17.00 L3.70,19.30 L4.90,20.50 L6.50,21.00 L11.50,21.00 L13.10,20.50 L14.30,19.30 L14.60,17.00 L14.40,12.69Z" fill="#fff" fill-opacity="1.00"/><ellipse cx="8.70" cy="23.00" rx="0.80" ry="3.00" fill="#fff" fill-opacity="0.80"/><ellipse cx="4.30" cy="11.18" rx="0.90" ry="2.11" fill="#fff" fill-opacity="0.80"/><ellipse cx="13.70" cy="11.18" rx="0.90" ry="2.11" fill="#fff" fill-opacity="0.80"/><ellipse cx="5.77" cy="10.93" rx="1.38" ry="1.81" fill="#fff" fill-opacity="1.00"/><ellipse cx="8.72" cy="11.18" rx="2.50" ry="1.51" fill="#fff" fill-opacity="0.45"/></g></g></g>
<g transform="translate(359.60 71.90)"><use href="#mbg"/><g transform="rotate(-2.7 9 12)"><g filter="url(#mblur)"><use href="#mbody"/></g><g filter="url(#heat)"><path d="M9.00,0.60 L7.00,1.00 L5.20,2.70 L4.10,5.00 L3.80,8.00 L3.70,9.70 L14.30,9.70 L14.20,8.00 L13.90,5.00 L12.80,2.70 L11.00,1.00Z" fill="#fff" fill-opacity="1.00"/><path d="M3.60,12.72 L3.40,17.00 L3.70,19.30 L4.90,20.50 L6.50,21.00 L11.50,21.00 L13.10,20.50 L14.30,19.30 L14.60,17.00 L14.40,12.72Z" fill="#fff" fill-opacity="1.00"/><ellipse cx="8.70" cy="23.00" rx="0.80" ry="3.00" fill="#fff" fill-opacity="0.80"/><ellipse cx="4.30" cy="11.21" rx="0.90" ry="2.11" fill="#fff" fill-opacity="0.80"/><ellipse cx="13.70" cy="11.21" rx="0.90" ry="2.11" fill="#fff" fill-opacity="0.80"/><ellipse cx="11.94" cy="11.48" rx="1.27" ry="1.81" fill="#fff" fill-opacity="1.00"/><ellipse cx="9.31" cy="11.21" rx="2.50" ry="1.51" fill="#fff" fill-opacity="0.45"/></g></g></g>
<text x="253.90" y="90.20" font-size="9" text-anchor="end" fill="#111">#284</text>
<g transform="translate(255.50 103.50)"><use href="#mbg"/><g transform="rotate(-0.5 9 12)"><g filter="url(#mblur)"><use href="#mbody"/></g><g filter="url(#heat)"><ellipse cx="4.82" cy="18.60" rx="1.10" ry="1.10" fill="#fff" fill-opacity="0.42"/><ellipse cx="12.52" cy="18.60" rx="1.10" ry="1.10" fill="#fff" fill-opacity="0.42"/></g></g></g>
<g transform="translate(276.32 103.50)"><use href="#mbg"/><g transform="rotate(1.1 9 12)"><g filter="url(#mblur)"><use href="#mbody"/></g><g filter="url(#heat)"><path d="M9.00,0.60 L7.00,1.00 L5.20,2.70 L4.10,5.00 L3.80,8.00 L3.70,9.93 L14.30,9.93 L14.20,8.00 L13.90,5.00 L12.80,2.70 L11.00,1.00Z" fill="#fff" fill-opacity="0.33"/><ellipse cx="9.75" cy="5.45" rx="2.20" ry="2.60" fill="#fff" fill-opacity="0.42"/><ellipse cx="5.86" cy="17.93" rx="2.50" ry="3.20" fill="#fff" fill-opacity="0.45"/><ellipse cx="11.52" cy="17.02" rx="2.50" ry="3.20" fill="#fff" fill-opacity="0.45"/><ellipse cx="8.50" cy="13.76" rx="1.50" ry="1.20" fill="#fff" fill-opacity="0.30"/></g></g></g>
<g transform="translate(297.14 103.50)"><use href="#mbg"/><g transform="rotate(4.0 9 12)"><g filter="url(#mblur)"><use href="#mbody"/></g><g filter="url(#heat)"><path d="M9.00,0.60 L7.00,1.00 L5.20,2.70 L4.10,5.00 L3.80,8.00 L3.70,10.17 L14.30,10.17 L14.20,8.00 L13.90,5.00 L12.80,2.70 L11.00,1.00Z" fill="#fff" fill-opacity="1.00"/><path d="M3.60,14.15 L3.40,17.00 L3.70,19.30 L4.90,20.50 L6.50,21.00 L11.50,21.00 L13.10,20.50 L14.30,19.30 L14.60,17.00 L14.40,14.15Z" fill="#fff" fill-opacity="1.00"/><ellipse cx="8.70" cy="23.00" rx="0.80" ry="3.00" fill="#fff" fill-opacity="0.80"/><ellipse cx="4.30" cy="12.16" rx="0.90" ry="2.59" fill="#fff" fill-opacity="0.80"/><ellipse cx="13.70" cy="12.16" rx="0.90" ry="2.59" fill="#fff" fill-opacity="0.80"/><ellipse cx="6.15" cy="12.57" rx="1.17" ry="2.29" fill="#fff" fill-opacity="1.00"/></g></g></g>
<g transform="translate(317.96 103.50)"><use href="#mbg"/><g transform="rotate(-4.7 9 12)"><g filter="url(#mblur)"><use href="#mbody"/></g><g filter="url(#heat)"><path d="M9.00,0.60 L7.00,1.00 L5.20,2.70 L4.10,5.00 L3.80,8.00 L3.70,10.07 L14.30,10.07 L14.20,8.00 L13.90,5.00 L12.80,2.70 L11.00,1.00Z" fill="#fff" fill-opacity="1.00"/><path d="M3.60,13.25 L3.40,17.00 L3.70,19.30 L4.90,20.50 L6.50,21.00 L11.50,21.00 L13.10,20.50 L14.30,19.30 L14.60,17.00 L14.40,13.25Z" fill="#fff" fill-opacity="1.00"/><ellipse cx="8.70" cy="23.00" rx="0.80" ry="3.00" fill="#fff" fill-opacity="0.80"/><ellipse cx="4.30" cy="11.66" rx="0.90" ry="2.19" fill="#fff" fill-opacity="0.80"/><ellipse cx="13.70" cy="11.66" rx="0.90" ry="2.19" fill="#fff" fill-opacity="0.80"/><ellipse cx="11.80" cy="11.91" rx="1.14" ry="1.89" fill="#fff" fill-opacity="1.00"/><ellipse cx="8.37" cy="11.66" rx="2.50" ry="1.59" fill="#fff" fill-opacity="0.45"/></g></g></g>
<g transform="translate(338.78 103.50)"><use href="#mbg"/><g transform="rotate(3.2 9 12)"><g filter="url(#mblur)"><use href="#mbody"/></g><g filter="url(#heat)"><path d="M9.00,0.60 L7.00,1.00 L5.20,2.70 L4.10,5.00 L3.80,8.00 L3.70,9.41 L14.30,9.41 L14.20,8.00 L13.90,5.00 L12.80,2.70 L11.00,1.00Z" fill="#fff" fill-opacity="1.00"/><path d="M3.60,12.43 L3.40,17.00 L3.70,19.30 L4.90,20.50 L6.50,21.00 L11.50,21.00 L13.10,20.50 L14.30,19.30 L14.60,17.00 L14.40,12.43Z" fill="#fff" fill-opacity="1.00"/><ellipse cx="8.70" cy="23.00" rx="0.80" ry="3.00" fill="#fff" fill-opacity="0.80"/><ellipse cx="4.30" cy="10.92" rx="0.90" ry="2.11" fill="#fff" fill-opacity="0.80"/><ellipse cx="13.70" cy="10.92" rx="0.90" ry="2.11" fill="#fff" fill-opacity="0.80"/><ellipse cx="11.70" cy="10.77" rx="1.77" ry="1.81" fill="#fff" fill-opacity="1.00"/><ellipse cx="7.95" cy="10.92" rx="2.50" ry="1.51" fill="#fff" fill-opacity="0.45"/></g></g></g>
<g transform="translate(359.60 103.50)"><use href="#mbg"/><g transform="rotate(4.7 9 12)"><g filter="url(#mblur)"><use href="#mbody"/></g><g filter="url(#heat)"><path d="M9.00,0.60 L7.00,1.00 L5.20,2.70 L4.10,5.00 L3.80,8.00 L3.70,9.74 L14.30,9.74 L14.20,8.00 L13.90,5.00 L12.80,2.70 L11.00,1.00Z" fill="#fff" fill-opacity="1.00"/><path d="M3.60,12.76 L3.40,17.00 L3.70,19.30 L4.90,20.50 L6.50,21.00 L11.50,21.00 L13.10,20.50 L14.30,19.30 L14.60,17.00 L14.40,12.76Z" fill="#fff" fill-opacity="1.00"/><ellipse cx="8.70" cy="23.00" rx="0.80" ry="3.00" fill="#fff" fill-opacity="0.80"/><ellipse cx="4.30" cy="11.25" rx="0.90" ry="2.11" fill="#fff" fill-opacity="0.80"/><ellipse cx="13.70" cy="11.25" rx="0.90" ry="2.11" fill="#fff" fill-opacity="0.80"/><ellipse cx="5.74" cy="10.98" rx="1.51" ry="1.81" fill="#fff" fill-opacity="1.00"/><ellipse cx="8.09" cy="11.25" rx="2.50" ry="1.51" fill="#fff" fill-opacity="0.45"/></g></g></g>
<text x="253.90" y="121.80" font-size="9" text-anchor="end" fill="#111">#288</text>
<g transform="translate(255.50 137.10)"><use href="#mbg"/><g transform="rotate(4.5 9 12)"><g filter="url(#mblur)"><use href="#mbody"/></g></g></g>
<g transform="translate(276.32 137.10)"><use href="#mbg"/><g transform="rotate(-4.1 9 12)"><g filter="url(#mblur)"><use href="#mbody"/></g></g></g>
<g transform="translate(297.14 137.10)"><use href="#mbg"/><g transform="rotate(3.2 9 12)"><g filter="url(#mblur)"><use href="#mbody"/></g></g></g>
<g transform="translate(317.96 137.10)"><use href="#mbg"/><g transform="rotate(3.2 9 12)"><g filter="url(#mblur)"><use href="#mbody"/></g></g></g>
<g transform="translate(338.78 137.10)"><use href="#mbg"/><g transform="rotate(2.1 9 12)"><g filter="url(#mblur)"><use href="#mbody"/></g><g filter="url(#heat)"><ellipse cx="4.95" cy="18.60" rx="1.10" ry="1.10" fill="#fff" fill-opacity="0.42"/><ellipse cx="12.46" cy="18.60" rx="1.10" ry="1.10" fill="#fff" fill-opacity="0.42"/></g></g></g>
<g transform="translate(359.60 137.10)"><use href="#mbg"/><g transform="rotate(0.2 9 12)"><g filter="url(#mblur)"><use href="#mbody"/></g><g filter="url(#heat)"><ellipse cx="4.43" cy="18.60" rx="1.10" ry="1.10" fill="#fff" fill-opacity="0.42"/><ellipse cx="12.97" cy="18.60" rx="1.10" ry="1.10" fill="#fff" fill-opacity="0.42"/><ellipse cx="9.45" cy="10.00" rx="1.20" ry="1.40" fill="#fff" fill-opacity="0.33"/></g></g></g>
<g transform="translate(380.42 137.10)"><use href="#mbg"/><g transform="rotate(0.8 9 12)"><g filter="url(#mblur)"><use href="#mbody"/></g><g filter="url(#heat)"><ellipse cx="4.54" cy="18.21" rx="1.80" ry="2.00" fill="#fff" fill-opacity="0.55"/><ellipse cx="13.57" cy="18.91" rx="1.80" ry="2.00" fill="#fff" fill-opacity="0.55"/><ellipse cx="9.02" cy="5.72" rx="2.60" ry="3.00" fill="#fff" fill-opacity="0.39"/><ellipse cx="8.41" cy="12.21" rx="1.00" ry="1.00" fill="#fff" fill-opacity="0.28"/><ellipse cx="6.35" cy="10.11" rx="1.00" ry="1.20" fill="#fff" fill-opacity="0.30"/><ellipse cx="11.15" cy="6.29" rx="1.00" ry="1.20" fill="#fff" fill-opacity="0.30"/></g></g></g>
<g transform="translate(401.24 137.10)"><use href="#mbg"/><g transform="rotate(-4.6 9 12)"><g filter="url(#mblur)"><use href="#mbody"/></g><g filter="url(#heat)"><path d="M9.00,0.60 L7.00,1.00 L5.20,2.70 L4.10,5.00 L3.80,8.00 L3.70,9.29 L14.30,9.29 L14.20,8.00 L13.90,5.00 L12.80,2.70 L11.00,1.00Z" fill="#fff" fill-opacity="0.39"/><ellipse cx="9.45" cy="4.70" rx="2.70" ry="3.10" fill="#fff" fill-opacity="0.52"/><ellipse cx="5.44" cy="17.90" rx="3.00" ry="3.20" fill="#fff" fill-opacity="0.62"/><ellipse cx="11.78" cy="17.24" rx="3.00" ry="3.20" fill="#fff" fill-opacity="0.62"/><ellipse cx="8.38" cy="13.72" rx="1.50" ry="1.20" fill="#fff" fill-opacity="0.30"/></g></g></g>
<g transform="translate(422.06 137.10)"><use href="#mbg"/><g transform="rotate(-5.0 9 12)"><g filter="url(#mblur)"><use href="#mbody"/></g><g filter="url(#heat)"><path d="M9.00,0.60 L7.00,1.00 L5.20,2.70 L4.10,5.00 L3.80,8.00 L3.70,10.37 L14.30,10.37 L14.20,8.00 L13.90,5.00 L12.80,2.70 L11.00,1.00Z" fill="#fff" fill-opacity="1.00"/><path d="M3.60,14.35 L3.40,17.00 L3.70,19.30 L4.90,20.50 L6.50,21.00 L11.50,21.00 L13.10,20.50 L14.30,19.30 L14.60,17.00 L14.40,14.35Z" fill="#fff" fill-opacity="1.00"/><ellipse cx="8.70" cy="23.00" rx="0.80" ry="3.00" fill="#fff" fill-opacity="0.80"/><ellipse cx="4.30" cy="12.36" rx="0.90" ry="2.59" fill="#fff" fill-opacity="0.80"/><ellipse cx="13.70" cy="12.36" rx="0.90" ry="2.59" fill="#fff" fill-opacity="0.80"/><ellipse cx="5.88" cy="12.58" rx="1.17" ry="2.29" fill="#fff" fill-opacity="1.00"/></g></g></g>
<g transform="translate(463.70 137.10)"><use href="#mbg"/><g transform="rotate(-2.1 9 12)"><g filter="url(#mblur)"><use href="#mbody"/></g><g filter="url(#heat)"><path d="M9.00,0.60 L7.00,1.00 L5.20,2.70 L4.10,5.00 L3.80,8.00 L3.70,9.67 L14.30,9.67 L14.20,8.00 L13.90,5.00 L12.80,2.70 L11.00,1.00Z" fill="#fff" fill-opacity="1.00"/><path d="M3.60,12.37 L3.40,17.00 L3.70,19.30 L4.90,20.50 L6.50,21.00 L11.50,21.00 L13.10,20.50 L14.30,19.30 L14.60,17.00 L14.40,12.37Z" fill="#fff" fill-opacity="1.00"/><ellipse cx="8.70" cy="23.00" rx="0.80" ry="3.00" fill="#fff" fill-opacity="0.80"/><ellipse cx="4.30" cy="11.02" rx="0.90" ry="1.95" fill="#fff" fill-opacity="0.80"/><ellipse cx="13.70" cy="11.02" rx="0.90" ry="1.95" fill="#fff" fill-opacity="0.80"/><ellipse cx="6.12" cy="11.03" rx="1.29" ry="1.65" fill="#fff" fill-opacity="1.00"/><ellipse cx="10.42" cy="11.02" rx="2.50" ry="1.35" fill="#fff" fill-opacity="0.45"/></g></g></g>
<text x="253.90" y="155.40" font-size="9" text-anchor="end" fill="#111">#277</text>
<g transform="translate(255.50 169.00)"><use href="#mbg"/><g transform="rotate(-5.6 9 12)"><g filter="url(#mblur)"><use href="#mbody"/></g></g></g>
<g transform="translate(276.32 169.00)"><use href="#mbg"/><g transform="rotate(1.5 9 12)"><g filter="url(#mblur)"><use href="#mbody"/></g></g></g>
<g transform="translate(297.14 169.00)"><use href="#mbg"/><g transform="rotate(-1.5 9 12)"><g filter="url(#mblur)"><use href="#mbody"/></g></g></g>
<g transform="translate(317.96 169.00)"><use href="#mbg"/><g transform="rotate(-2.3 9 12)"><g filter="url(#mblur)"><use href="#mbody"/></g></g></g>
<g transform="translate(338.78 169.00)"><use href="#mbg"/><g transform="rotate(1.9 9 12)"><g filter="url(#mblur)"><use href="#mbody"/></g></g></g>
<g transform="translate(359.60 169.00)"><use href="#mbg"/><g transform="rotate(-0.9 9 12)"><g filter="url(#mblur)"><use href="#mbody"/></g><g filter="url(#heat)"><ellipse cx="8.60" cy="24.50" rx="0.60" ry="2.40" fill="#fff" fill-opacity="0.35"/><ellipse cx="5.71" cy="18.60" rx="1.10" ry="1.10" fill="#fff" fill-opacity="0.42"/><ellipse cx="13.39" cy="18.60" rx="1.10" ry="1.10" fill="#fff" fill-opacity="0.42"/><ellipse cx="8.57" cy="7.08" rx="1.20" ry="1.40" fill="#fff" fill-opacity="0.33"/></g></g></g>
<g transform="translate(380.42 169.00)"><use href="#mbg"/><g transform="rotate(1.9 9 12)"><g filter="url(#mblur)"><use href="#mbody"/></g><g filter="url(#heat)"><ellipse cx="5.38" cy="18.79" rx="1.80" ry="2.00" fill="#fff" fill-opacity="0.53"/><ellipse cx="12.79" cy="18.18" rx="1.80" ry="2.00" fill="#fff" fill-opacity="0.53"/><ellipse cx="8.72" cy="7.06" rx="2.50" ry="2.90" fill="#fff" fill-opacity="0.38"/><ellipse cx="7.92" cy="12.16" rx="1.00" ry="1.00" fill="#fff" fill-opacity="0.28"/><ellipse cx="5.63" cy="6.75" rx="1.00" ry="1.20" fill="#fff" fill-opacity="0.30"/><ellipse cx="13.32" cy="6.16" rx="1.00" ry="1.20" fill="#fff" fill-opacity="0.30"/></g></g></g>
<g transform="translate(401.24 169.00)"><use href="#mbg"/><g transform="rotate(-2.9 9 12)"><g filter="url(#mblur)"><use href="#mbody"/></g><g filter="url(#heat)"><path d="M9.00,0.60 L7.00,1.00 L5.20,2.70 L4.10,5.00 L3.80,8.00 L3.70,8.60 L14.30,8.60 L14.20,8.00 L13.90,5.00 L12.80,2.70 L11.00,1.00Z" fill="#fff" fill-opacity="0.39"/><ellipse cx="8.92" cy="6.12" rx="2.70" ry="3.10" fill="#fff" fill-opacity="0.52"/><ellipse cx="5.40" cy="17.02" rx="3.00" ry="3.20" fill="#fff" fill-opacity="0.62"/><ellipse cx="11.55" cy="17.35" rx="3.00" ry="3.20" fill="#fff" fill-opacity="0.62"/><ellipse cx="8.30" cy="14.67" rx="1.50" ry="1.20" fill="#fff" fill-opacity="0.30"/></g></g></g>
<g transform="translate(422.06 169.00)"><use href="#mbg"/><g transform="rotate(5.8 9 12)"><g filter="url(#mblur)"><use href="#mbody"/></g><g filter="url(#heat)"><path d="M9.00,0.60 L7.00,1.00 L5.20,2.70 L4.10,5.00 L3.80,8.00 L3.70,11.48 L14.30,11.48 L14.20,8.00 L13.90,5.00 L12.80,2.70 L11.00,1.00Z" fill="#fff" fill-opacity="1.00"/><path d="M3.60,15.14 L3.40,17.00 L3.70,19.30 L4.90,20.50 L6.50,21.00 L11.50,21.00 L13.10,20.50 L14.30,19.30 L14.60,17.00 L14.40,15.14Z" fill="#fff" fill-opacity="1.00"/><ellipse cx="8.70" cy="23.00" rx="0.80" ry="3.00" fill="#fff" fill-opacity="0.80"/><ellipse cx="4.30" cy="13.31" rx="0.90" ry="2.43" fill="#fff" fill-opacity="0.80"/><ellipse cx="13.70" cy="13.31" rx="0.90" ry="2.43" fill="#fff" fill-opacity="0.80"/><ellipse cx="12.47" cy="12.77" rx="1.53" ry="2.13" fill="#fff" fill-opacity="1.00"/></g></g></g>
<g transform="translate(442.88 169.00)"><use href="#mbg"/><g transform="rotate(-1.6 9 12)"><g filter="url(#mblur)"><use href="#mbody"/></g><g filter="url(#heat)"><path d="M9.00,0.60 L7.00,1.00 L5.20,2.70 L4.10,5.00 L3.80,8.00 L3.70,10.47 L14.30,10.47 L14.20,8.00 L13.90,5.00 L12.80,2.70 L11.00,1.00Z" fill="#fff" fill-opacity="1.00"/><path d="M3.60,13.81 L3.40,17.00 L3.70,19.30 L4.90,20.50 L6.50,21.00 L11.50,21.00 L13.10,20.50 L14.30,19.30 L14.60,17.00 L14.40,13.81Z" fill="#fff" fill-opacity="1.00"/><ellipse cx="8.70" cy="23.00" rx="0.80" ry="3.00" fill="#fff" fill-opacity="0.80"/><ellipse cx="4.30" cy="12.14" rx="0.90" ry="2.27" fill="#fff" fill-opacity="0.80"/><ellipse cx="13.70" cy="12.14" rx="0.90" ry="2.27" fill="#fff" fill-opacity="0.80"/><ellipse cx="12.47" cy="12.03" rx="1.37" ry="1.97" fill="#fff" fill-opacity="1.00"/><ellipse cx="9.93" cy="12.14" rx="2.50" ry="1.67" fill="#fff" fill-opacity="0.45"/></g></g></g>
<g transform="translate(463.70 169.00)"><use href="#mbg"/><g transform="rotate(-3.7 9 12)"><g filter="url(#mblur)"><use href="#mbody"/></g><g filter="url(#heat)"><path d="M9.00,0.60 L7.00,1.00 L5.20,2.70 L4.10,5.00 L3.80,8.00 L3.70,9.86 L14.30,9.86 L14.20,8.00 L13.90,5.00 L12.80,2.70 L11.00,1.00Z" fill="#fff" fill-opacity="1.00"/><path d="M3.60,13.04 L3.40,17.00 L3.70,19.30 L4.90,20.50 L6.50,21.00 L11.50,21.00 L13.10,20.50 L14.30,19.30 L14.60,17.00 L14.40,13.04Z" fill="#fff" fill-opacity="1.00"/><ellipse cx="8.70" cy="23.00" rx="0.80" ry="3.00" fill="#fff" fill-opacity="0.80"/><ellipse cx="4.30" cy="11.45" rx="0.90" ry="2.19" fill="#fff" fill-opacity="0.80"/><ellipse cx="13.70" cy="11.45" rx="0.90" ry="2.19" fill="#fff" fill-opacity="0.80"/><ellipse cx="11.72" cy="11.57" rx="1.79" ry="1.89" fill="#fff" fill-opacity="1.00"/><ellipse cx="8.96" cy="11.45" rx="2.50" ry="1.59" fill="#fff" fill-opacity="0.45"/></g></g></g>
<text x="253.90" y="187.30" font-size="9" text-anchor="end" fill="#111">#282</text>
<g transform="translate(255.50 200.60)"><use href="#mbg"/><g transform="rotate(-4.2 9 12)"><g filter="url(#mblur)"><use href="#mbody"/></g><g filter="url(#heat)"><ellipse cx="4.23" cy="18.60" rx="1.10" ry="1.10" fill="#fff" fill-opacity="0.42"/><ellipse cx="12.73" cy="18.60" rx="1.10" ry="1.10" fill="#fff" fill-opacity="0.42"/></g></g></g>
<g transform="translate(276.32 200.60)"><use href="#mbg"/><g transform="rotate(5.2 9 12)"><g filter="url(#mblur)"><use href="#mbody"/></g><g filter="url(#heat)"><ellipse cx="5.36" cy="18.60" rx="1.10" ry="1.10" fill="#fff" fill-opacity="0.42"/><ellipse cx="12.26" cy="18.60" rx="1.10" ry="1.10" fill="#fff" fill-opacity="0.42"/></g></g></g>
<g transform="translate(297.14 200.60)"><use href="#mbg"/><g transform="rotate(0.7 9 12)"><g filter="url(#mblur)"><use href="#mbody"/></g><g filter="url(#heat)"><ellipse cx="5.68" cy="18.55" rx="1.80" ry="2.00" fill="#fff" fill-opacity="0.53"/><ellipse cx="12.10" cy="18.50" rx="1.80" ry="2.00" fill="#fff" fill-opacity="0.53"/><ellipse cx="8.86" cy="6.06" rx="2.50" ry="2.90" fill="#fff" fill-opacity="0.38"/><ellipse cx="7.45" cy="12.56" rx="1.00" ry="1.00" fill="#fff" fill-opacity="0.28"/><ellipse cx="6.74" cy="9.97" rx="1.00" ry="1.20" fill="#fff" fill-opacity="0.30"/><ellipse cx="11.10" cy="7.16" rx="1.00" ry="1.20" fill="#fff" fill-opacity="0.30"/></g></g></g>
<g transform="translate(317.96 200.60)"><use href="#mbg"/><g transform="rotate(5.6 9 12)"><g filter="url(#mblur)"><use href="#mbody"/></g><g filter="url(#heat)"><path d="M9.00,0.60 L7.00,1.00 L5.20,2.70 L4.10,5.00 L3.80,8.00 L3.70,10.05 L14.30,10.05 L14.20,8.00 L13.90,5.00 L12.80,2.70 L11.00,1.00Z" fill="#fff" fill-opacity="0.33"/><ellipse cx="9.68" cy="5.96" rx="2.20" ry="2.60" fill="#fff" fill-opacity="0.42"/><ellipse cx="5.00" cy="17.28" rx="2.50" ry="3.20" fill="#fff" fill-opacity="0.45"/><ellipse cx="11.65" cy="17.45" rx="2.50" ry="3.20" fill="#fff" fill-opacity="0.45"/><ellipse cx="8.52" cy="14.07" rx="1.50" ry="1.20" fill="#fff" fill-opacity="0.30"/></g></g></g>
<g transform="translate(338.78 200.60)"><use href="#mbg"/><g transform="rotate(-3.5 9 12)"><g filter="url(#mblur)"><use href="#mbody"/></g><g filter="url(#heat)"><path d="M9.00,0.60 L7.00,1.00 L5.20,2.70 L4.10,5.00 L3.80,8.00 L3.70,9.65 L14.30,9.65 L14.20,8.00 L13.90,5.00 L12.80,2.70 L11.00,1.00Z" fill="#fff" fill-opacity="0.39"/><ellipse cx="9.58" cy="5.88" rx="2.70" ry="3.10" fill="#fff" fill-opacity="0.52"/><ellipse cx="5.46" cy="17.55" rx="3.00" ry="3.20" fill="#fff" fill-opacity="0.62"/><ellipse cx="11.48" cy="16.61" rx="3.00" ry="3.20" fill="#fff" fill-opacity="0.62"/><ellipse cx="8.81" cy="13.57" rx="1.50" ry="1.20" fill="#fff" fill-opacity="0.30"/></g></g></g>
<g transform="translate(380.42 200.60)"><use href="#mbg"/><g transform="rotate(-1.9 9 12)"><g filter="url(#mblur)"><use href="#mbody"/></g><g filter="url(#heat)"><path d="M9.00,0.60 L7.00,1.00 L5.20,2.70 L4.10,5.00 L3.80,8.00 L3.70,10.98 L14.30,10.98 L14.20,8.00 L13.90,5.00 L12.80,2.70 L11.00,1.00Z" fill="#fff" fill-opacity="1.00"/><path d="M3.60,14.32 L3.40,17.00 L3.70,19.30 L4.90,20.50 L6.50,21.00 L11.50,21.00 L13.10,20.50 L14.30,19.30 L14.60,17.00 L14.40,14.32Z" fill="#fff" fill-opacity="1.00"/><ellipse cx="8.70" cy="23.00" rx="0.80" ry="3.00" fill="#fff" fill-opacity="0.80"/><ellipse cx="4.30" cy="12.65" rx="0.90" ry="2.27" fill="#fff" fill-opacity="0.80"/><ellipse cx="13.70" cy="12.65" rx="0.90" ry="2.27" fill="#fff" fill-opacity="0.80"/><ellipse cx="11.93" cy="12.42" rx="1.74" ry="1.97" fill="#fff" fill-opacity="1.00"/><ellipse cx="8.08" cy="12.65" rx="2.50" ry="1.67" fill="#fff" fill-opacity="0.45"/></g></g></g>
<g transform="translate(401.24 200.60)"><use href="#mbg"/><g transform="rotate(5.5 9 12)"><g filter="url(#mblur)"><use href="#mbody"/></g><g filter="url(#heat)"><path d="M9.00,0.60 L7.00,1.00 L5.20,2.70 L4.10,5.00 L3.80,8.00 L3.70,11.24 L14.30,11.24 L14.20,8.00 L13.90,5.00 L12.80,2.70 L11.00,1.00Z" fill="#fff" fill-opacity="1.00"/><path d="M3.60,14.42 L3.40,17.00 L3.70,19.30 L4.90,20.50 L6.50,21.00 L11.50,21.00 L13.10,20.50 L14.30,19.30 L14.60,17.00 L14.40,14.42Z" fill="#fff" fill-opacity="1.00"/><ellipse cx="8.70" cy="23.00" rx="0.80" ry="3.00" fill="#fff" fill-opacity="0.80"/><ellipse cx="4.30" cy="12.83" rx="0.90" ry="2.19" fill="#fff" fill-opacity="0.80"/><ellipse cx="13.70" cy="12.83" rx="0.90" ry="2.19" fill="#fff" fill-opacity="0.80"/><ellipse cx="6.00" cy="13.13" rx="1.22" ry="1.89" fill="#fff" fill-opacity="1.00"/><ellipse cx="8.83" cy="12.83" rx="2.50" ry="1.59" fill="#fff" fill-opacity="0.45"/></g></g></g>
<g transform="translate(422.06 200.60)"><use href="#mbg"/><g transform="rotate(4.8 9 12)"><g filter="url(#mblur)"><use href="#mbody"/></g><g filter="url(#heat)"><path d="M9.00,0.60 L7.00,1.00 L5.20,2.70 L4.10,5.00 L3.80,8.00 L3.70,9.69 L14.30,9.69 L14.20,8.00 L13.90,5.00 L12.80,2.70 L11.00,1.00Z" fill="#fff" fill-opacity="1.00"/><path d="M3.60,13.19 L3.40,17.00 L3.70,19.30 L4.90,20.50 L6.50,21.00 L11.50,21.00 L13.10,20.50 L14.30,19.30 L14.60,17.00 L14.40,13.19Z" fill="#fff" fill-opacity="1.00"/><ellipse cx="8.70" cy="23.00" rx="0.80" ry="3.00" fill="#fff" fill-opacity="0.80"/><ellipse cx="4.30" cy="11.44" rx="0.90" ry="2.35" fill="#fff" fill-opacity="0.80"/><ellipse cx="13.70" cy="11.44" rx="0.90" ry="2.35" fill="#fff" fill-opacity="0.80"/><ellipse cx="5.60" cy="11.91" rx="1.74" ry="2.05" fill="#fff" fill-opacity="1.00"/></g></g></g>
<text x="253.90" y="218.90" font-size="9" text-anchor="end" fill="#111">#287</text>
<text x="229.80" y="89.00" font-size="10" font-weight="bold" text-anchor="middle" fill="#5a5a5a" transform="rotate(-90 229.8 89)">vehicle</text>
<text x="229.80" y="183.50" font-size="10" font-weight="bold" text-anchor="middle" fill="#ee2a24" transform="rotate(-90 229.8 183.5)">VEN</text>
<text x="509.90" y="15.80" font-size="21.3" font-weight="bold" text-anchor="start" fill="#000">B</text>
<text x="617.50" y="20.40" font-size="7.0" font-weight="bold" text-anchor="middle" fill="#000">SEM-CDX</text>
<line x1="562.60" y1="102.50" x2="672.80" y2="102.50" stroke="#111" stroke-width="0.7"/>
<line x1="562.60" y1="102.85" x2="562.60" y2="28.90" stroke="#111" stroke-width="0.7"/>
<line x1="562.60" y1="102.50" x2="562.60" y2="104.50" stroke="#111" stroke-width="0.7"/>
<text x="562.60" y="111.70" font-size="5.5" font-weight="bold" text-anchor="middle" fill="#111">0</text>
<line x1="590.02" y1="102.50" x2="590.02" y2="104.50" stroke="#111" stroke-width="0.7"/>
<text x="590.02" y="111.70" font-size="5.5" font-weight="bold" text-anchor="middle" fill="#111">20</text>
<line x1="617.44" y1="102.50" x2="617.44" y2="104.50" stroke="#111" stroke-width="0.7"/>
<text x="617.44" y="111.70" font-size="5.5" font-weight="bold" text-anchor="middle" fill="#111">40</text>
<line x1="644.86" y1="102.50" x2="644.86" y2="104.50" stroke="#111" stroke-width="0.7"/>
<text x="644.86" y="111.70" font-size="5.5" font-weight="bold" text-anchor="middle" fill="#111">60</text>
<line x1="672.28" y1="102.50" x2="672.28" y2="104.50" stroke="#111" stroke-width="0.7"/>
<text x="672.28" y="111.70" font-size="5.5" font-weight="bold" text-anchor="middle" fill="#111">80</text>
<line x1="560.60" y1="102.50" x2="562.60" y2="102.50" stroke="#111" stroke-width="0.7"/>
<text x="559.60" y="104.48" font-size="5.5" font-weight="bold" text-anchor="end" fill="#111">0</text>
<line x1="560.60" y1="77.96" x2="562.60" y2="77.96" stroke="#111" stroke-width="0.7"/>
<text x="559.60" y="79.94" font-size="5.5" font-weight="bold" text-anchor="end" fill="#111">2000000000</text>
<line x1="560.60" y1="53.42" x2="562.60" y2="53.42" stroke="#111" stroke-width="0.7"/>
<text x="559.60" y="55.40" font-size="5.5" font-weight="bold" text-anchor="end" fill="#111">4000000000</text>
<line x1="560.60" y1="28.88" x2="562.60" y2="28.88" stroke="#111" stroke-width="0.7"/>
<text x="559.60" y="30.86" font-size="5.5" font-weight="bold" text-anchor="end" fill="#111">6000000000</text>
<text x="617.50" y="121.00" font-size="6.1" font-weight="bold" text-anchor="middle" fill="#000">Days since tumor cell injection</text>
<text x="525.20" y="65.00" font-size="6.1" font-weight="bold" text-anchor="middle" fill="#000" transform="rotate(-90 525.2 65.0)">Bioluminescence [Ph/s]</text>
<line x1="564.80" y1="33.80" x2="574.00" y2="33.80" stroke="#666" stroke-width="0.6"/>
<line x1="564.80" y1="40.00" x2="574.00" y2="40.00" stroke="#f04848" stroke-width="0.6"/>
<text x="577.00" y="35.96" font-size="6.0" text-anchor="start" fill="#333">vehicle</text>
<text x="577.00" y="42.16" font-size="6.0" text-anchor="start" fill="#333">VEN</text>
<polyline points="572.26,102.33 582.78,97.43 601.17,53.63" fill="none" stroke="#f42424" stroke-width="0.65"/>
<polyline points="582.78,102.33 592.41,93.93 602.05,74.65 610.81,46.62 620.44,35.24" fill="none" stroke="#f42424" stroke-width="0.65"/>
<polyline points="591.53,102.33 601.17,95.68 610.81,51.88 620.44,38.74 629.20,36.11" fill="none" stroke="#f42424" stroke-width="0.65"/>
<polyline points="601.17,102.33 610.81,92.17 620.44,74.65 629.20,60.64 630.08,59.76" fill="none" stroke="#f42424" stroke-width="0.65"/>
<polyline points="602.05,102.33 610.81,93.93 620.44,92.17 630.08,60.64" fill="none" stroke="#f42424" stroke-width="0.65"/>
<polyline points="610.81,102.33 638.84,101.81 649.35,95.68 668.62,40.49" fill="none" stroke="#f42424" stroke-width="0.65"/>
<polyline points="582.78,102.33 602.05,100.93 610.81,51.00" fill="none" stroke="#f42424" stroke-width="0.65"/>
<polyline points="572.26,102.33 581.90,67.65 591.53,46.27" fill="none" stroke="#3a3a3a" stroke-width="0.5"/>
<polyline points="572.26,102.33 581.90,85.17 591.53,43.12" fill="none" stroke="#3a3a3a" stroke-width="0.5"/>
<polyline points="572.26,102.33 582.78,95.68 588.03,71.15 591.53,46.62" fill="none" stroke="#3a3a3a" stroke-width="0.5"/>
<polyline points="582.78,102.33 592.41,99.18 601.17,83.41 610.81,48.38 619.57,35.24" fill="none" stroke="#3a3a3a" stroke-width="0.5"/>
<polyline points="592.41,102.33 602.05,100.06 610.81,92.17 619.57,51.88 630.08,42.24 639.71,36.99" fill="none" stroke="#3a3a3a" stroke-width="0.5"/>
<polyline points="601.17,102.33 610.81,100.93 620.44,93.93 629.20,60.64 639.71,44.00 648.47,42.24" fill="none" stroke="#3a3a3a" stroke-width="0.5"/>
<text x="592.40" y="41.60" font-size="2.6" text-anchor="start" fill="#333">#276</text>
<text x="592.40" y="43.80" font-size="2.6" text-anchor="start" fill="#333">#274</text>
<text x="592.40" y="46.00" font-size="2.6" text-anchor="start" fill="#333">#270</text>
<text x="592.40" y="48.20" font-size="2.6" text-anchor="start" fill="#333">#273</text>
<text x="624.80" y="34.40" font-size="4.3" text-anchor="start" fill="#f42424">#271</text>
<text x="611.00" y="52.80" font-size="4.3" text-anchor="start" fill="#f42424">#267</text>
<text x="630.00" y="61.20" font-size="4.3" text-anchor="start" fill="#f42424">#269</text>
<text x="618.80" y="158.00" font-size="7.0" font-weight="bold" text-anchor="middle" fill="#000">RS4;11-CDX</text>
<line x1="562.60" y1="240.70" x2="673.40" y2="240.70" stroke="#111" stroke-width="0.7"/>
<line x1="562.60" y1="241.05" x2="562.60" y2="166.50" stroke="#111" stroke-width="0.7"/>
<line x1="562.60" y1="240.70" x2="562.60" y2="242.70" stroke="#111" stroke-width="0.7"/>
<text x="562.60" y="249.90" font-size="5.5" font-weight="bold" text-anchor="middle" fill="#111">0</text>
<line x1="585.67" y1="240.70" x2="585.67" y2="242.70" stroke="#111" stroke-width="0.7"/>
<text x="585.67" y="249.90" font-size="5.5" font-weight="bold" text-anchor="middle" fill="#111">25</text>
<line x1="608.74" y1="240.70" x2="608.74" y2="242.70" stroke="#111" stroke-width="0.7"/>
<text x="608.74" y="249.90" font-size="5.5" font-weight="bold" text-anchor="middle" fill="#111">50</text>
<line x1="631.81" y1="240.70" x2="631.81" y2="242.70" stroke="#111" stroke-width="0.7"/>
<text x="631.81" y="249.90" font-size="5.5" font-weight="bold" text-anchor="middle" fill="#111">75</text>
<line x1="654.88" y1="240.70" x2="654.88" y2="242.70" stroke="#111" stroke-width="0.7"/>
<text x="654.88" y="249.90" font-size="5.5" font-weight="bold" text-anchor="middle" fill="#111">100</text>
<line x1="560.60" y1="240.70" x2="562.60" y2="240.70" stroke="#111" stroke-width="0.7"/>
<text x="559.60" y="242.68" font-size="5.5" font-weight="bold" text-anchor="end" fill="#111">0</text>
<line x1="560.60" y1="222.15" x2="562.60" y2="222.15" stroke="#111" stroke-width="0.7"/>
<text x="559.60" y="224.13" font-size="5.5" font-weight="bold" text-anchor="end" fill="#111">2000000000</text>
<line x1="560.60" y1="203.60" x2="562.60" y2="203.60" stroke="#111" stroke-width="0.7"/>
<text x="559.60" y="205.58" font-size="5.5" font-weight="bold" text-anchor="end" fill="#111">4000000000</text>
<line x1="560.60" y1="185.05" x2="562.60" y2="185.05" stroke="#111" stroke-width="0.7"/>
<text x="559.60" y="187.03" font-size="5.5" font-weight="bold" text-anchor="end" fill="#111">6000000000</text>
<line x1="560.60" y1="166.50" x2="562.60" y2="166.50" stroke="#111" stroke-width="0.7"/>
<text x="559.60" y="168.48" font-size="5.5" font-weight="bold" text-anchor="end" fill="#111">8000000000</text>
<text x="617.80" y="259.50" font-size="6.1" font-weight="bold" text-anchor="middle" fill="#000">Days since tumor cell injection</text>
<text x="525.20" y="203.50" font-size="6.1" font-weight="bold" text-anchor="middle" fill="#000" transform="rotate(-90 525.2 203.5)">Bioluminescence [Ph/s]</text>
<line x1="564.80" y1="172.40" x2="574.00" y2="172.40" stroke="#666" stroke-width="0.6"/>
<line x1="564.80" y1="179.00" x2="574.00" y2="179.00" stroke="#f04848" stroke-width="0.6"/>
<text x="577.00" y="174.56" font-size="6.0" text-anchor="start" fill="#333">vehicle</text>
<text x="577.00" y="181.16" font-size="6.0" text-anchor="start" fill="#333">VEN</text>
<polyline points="575.77,240.59 582.78,237.08 588.91,230.08 595.04,212.56 600.29,212.56" fill="none" stroke="#f42424" stroke-width="0.65"/>
<polyline points="582.78,240.59 590.66,237.08 595.91,223.07 602.05,220.44 610.81,205.55 619.57,195.91 626.57,195.04" fill="none" stroke="#f42424" stroke-width="0.65"/>
<polyline points="588.91,240.59 595.04,233.58 602.92,216.06 610.81,202.05 619.57,197.67" fill="none" stroke="#f42424" stroke-width="0.65"/>
<polyline points="595.04,240.59 602.05,235.33 609.05,226.57 614.31,212.56 620.44,195.91 633.58,181.90" fill="none" stroke="#f42424" stroke-width="0.65"/>
<polyline points="596.79,240.59 605.55,233.58 610.81,224.82 617.81,202.05 620.44,201.17" fill="none" stroke="#f42424" stroke-width="0.65"/>
<polyline points="588.91,240.59 640.59,239.71 660.74,230.95 673.00,188.03" fill="none" stroke="#f42424" stroke-width="0.65"/>
<polyline points="569.64,240.59 575.77,230.08 581.90,210.81 588.03,204.67" fill="none" stroke="#3a3a3a" stroke-width="0.5"/>
<polyline points="576.64,240.59 581.90,235.33 588.91,211.68 594.16,209.05" fill="none" stroke="#3a3a3a" stroke-width="0.5"/>
<polyline points="581.90,240.59 588.03,235.33 595.04,209.05 607.30,206.43 620.44,203.80" fill="none" stroke="#3a3a3a" stroke-width="0.5"/>
<polyline points="584.53,240.59 588.91,234.46 594.16,210.81 612.56,205.90" fill="none" stroke="#3a3a3a" stroke-width="0.5"/>
<text x="577.50" y="207.50" font-size="4.3" text-anchor="start" fill="#333">#288</text>
<text x="583.70" y="203.00" font-size="4.3" text-anchor="start" fill="#333">#284</text>
<text x="595.90" y="206.70" font-size="4.3" text-anchor="start" fill="#333">#281</text>
<text x="595.90" y="214.10" font-size="4.3" text-anchor="start" fill="#f42424">#287</text>
<text x="629.20" y="180.80" font-size="4.3" text-anchor="start" fill="#f42424">#282</text>
<text x="621.30" y="203.90" font-size="4.3" text-anchor="start" fill="#f42424">#277</text>
<text x="588.90" y="200.60" font-size="6.5" font-weight="bold" text-anchor="middle" fill="#000">*</text>
<text x="595.60" y="200.60" font-size="6.5" font-weight="bold" text-anchor="middle" fill="#000">*</text>
<text x="0.80" y="289.30" font-size="21.3" font-weight="bold" text-anchor="start" fill="#000">C</text>
<text x="99.00" y="297.60" font-size="7.5" font-weight="bold" text-anchor="middle" fill="#000">SEM-CDX</text>
<line x1="38.50" y1="388.40" x2="161.30" y2="388.40" stroke="#111" stroke-width="0.8"/>
<line x1="38.50" y1="388.80" x2="38.50" y2="307.20" stroke="#111" stroke-width="0.8"/>
<line x1="38.50" y1="388.40" x2="38.50" y2="390.40" stroke="#111" stroke-width="0.8"/>
<text x="38.50" y="398.00" font-size="6.0" font-weight="bold" text-anchor="middle" fill="#111">0</text>
<line x1="72.50" y1="388.40" x2="72.50" y2="390.40" stroke="#111" stroke-width="0.8"/>
<text x="72.50" y="398.00" font-size="6.0" font-weight="bold" text-anchor="middle" fill="#111">25</text>
<line x1="106.50" y1="388.40" x2="106.50" y2="390.40" stroke="#111" stroke-width="0.8"/>
<text x="106.50" y="398.00" font-size="6.0" font-weight="bold" text-anchor="middle" fill="#111">50</text>
<line x1="140.50" y1="388.40" x2="140.50" y2="390.40" stroke="#111" stroke-width="0.8"/>
<text x="140.50" y="398.00" font-size="6.0" font-weight="bold" text-anchor="middle" fill="#111">75</text>
<line x1="36.50" y1="388.40" x2="38.50" y2="388.40" stroke="#111" stroke-width="0.8"/>
<text x="35.50" y="390.56" font-size="6.0" font-weight="bold" text-anchor="end" fill="#111">0</text>
<line x1="36.50" y1="372.16" x2="38.50" y2="372.16" stroke="#111" stroke-width="0.8"/>
<text x="35.50" y="374.32" font-size="6.0" font-weight="bold" text-anchor="end" fill="#111">20</text>
<line x1="36.50" y1="355.92" x2="38.50" y2="355.92" stroke="#111" stroke-width="0.8"/>
<text x="35.50" y="358.08" font-size="6.0" font-weight="bold" text-anchor="end" fill="#111">40</text>
<line x1="36.50" y1="339.68" x2="38.50" y2="339.68" stroke="#111" stroke-width="0.8"/>
<text x="35.50" y="341.84" font-size="6.0" font-weight="bold" text-anchor="end" fill="#111">60</text>
<line x1="36.50" y1="323.44" x2="38.50" y2="323.44" stroke="#111" stroke-width="0.8"/>
<text x="35.50" y="325.60" font-size="6.0" font-weight="bold" text-anchor="end" fill="#111">80</text>
<line x1="36.50" y1="307.20" x2="38.50" y2="307.20" stroke="#111" stroke-width="0.8"/>
<text x="35.50" y="309.36" font-size="6.0" font-weight="bold" text-anchor="end" fill="#111">100</text>
<text x="99.30" y="408.50" font-size="6.8" font-weight="bold" text-anchor="middle" fill="#000">Days since tumor cell injection</text>
<text x="21.0" y="347.5" font-size="6.8" font-weight="bold" text-anchor="middle" fill="#000" transform="rotate(-90 21.0 347.5)">GFP<tspan font-size="4.4" dy="-2.6">+</tspan><tspan dy="2.6"> blast frequency [%]</tspan></text>
<line x1="42.00" y1="312.00" x2="51.00" y2="312.00" stroke="#666" stroke-width="0.6"/>
<line x1="42.00" y1="319.00" x2="51.00" y2="319.00" stroke="#f04848" stroke-width="0.6"/>
<text x="55.80" y="314.45" font-size="6.8" text-anchor="start" fill="#333">vehicle</text>
<text x="55.80" y="321.45" font-size="6.8" text-anchor="start" fill="#333">VEN</text>
<polyline points="67.88,387.27 79.71,378.33 87.60,371.76 95.74,355.07" fill="none" stroke="#f42424" stroke-width="0.65"/>
<polyline points="75.77,387.27 86.28,378.33 95.74,369.13" fill="none" stroke="#f42424" stroke-width="0.65"/>
<polyline points="96.79,387.27 105.34,378.99 115.19,365.19 123.99,332.34" fill="none" stroke="#f42424" stroke-width="0.65"/>
<polyline points="98.11,387.27 105.99,380.96 116.50,373.07 123.99,371.10" fill="none" stroke="#f42424" stroke-width="0.65"/>
<polyline points="99.42,387.27 109.93,371.76 121.76,345.48" fill="none" stroke="#f42424" stroke-width="0.65"/>
<polyline points="115.19,387.27 143.05,387.14 150.01,357.31" fill="none" stroke="#f42424" stroke-width="0.65"/>
<polyline points="56.06,387.27 60.00,386.48 66.57,382.27 73.14,375.44 86.28,345.74" fill="none" stroke="#3a3a3a" stroke-width="0.5"/>
<polyline points="56.06,387.27 60.00,385.56 67.88,382.93 73.14,376.36 77.74,367.82" fill="none" stroke="#3a3a3a" stroke-width="0.5"/>
<polyline points="57.37,387.27 63.94,386.48 73.14,377.02 86.28,371.76 91.54,373.07" fill="none" stroke="#3a3a3a" stroke-width="0.5"/>
<polyline points="83.65,387.27 95.48,377.02 105.34,346.53" fill="none" stroke="#3a3a3a" stroke-width="0.5"/>
<polyline points="96.14,387.27 104.68,368.48 113.88,366.24 124.39,323.80" fill="none" stroke="#3a3a3a" stroke-width="0.5"/>
<polyline points="104.68,387.27 115.19,381.62 124.39,361.91" fill="none" stroke="#3a3a3a" stroke-width="0.5"/>
<polyline points="115.19,387.27 124.39,377.28 133.59,354.94" fill="none" stroke="#3a3a3a" stroke-width="0.5"/>
<text x="81.00" y="345.10" font-size="4.5" text-anchor="start" fill="#333">#274</text>
<text x="67.90" y="365.20" font-size="4.5" text-anchor="start" fill="#333">#276</text>
<text x="77.70" y="376.00" font-size="4.5" text-anchor="start" fill="#333">#270</text>
<text x="90.90" y="353.60" font-size="4.5" text-anchor="start" fill="#f42424">#271</text>
<text x="90.90" y="367.40" font-size="4.5" text-anchor="start" fill="#f42424">#267</text>
<text x="119.10" y="321.80" font-size="4.5" text-anchor="start" fill="#f42424">#269</text>
<text x="268.00" y="297.60" font-size="7.5" font-weight="bold" text-anchor="middle" fill="#000">RS4;11-CDX</text>
<line x1="207.20" y1="388.40" x2="328.80" y2="388.40" stroke="#111" stroke-width="0.8"/>
<line x1="207.20" y1="388.80" x2="207.20" y2="307.30" stroke="#111" stroke-width="0.8"/>
<line x1="207.20" y1="388.40" x2="207.20" y2="390.40" stroke="#111" stroke-width="0.8"/>
<text x="207.20" y="398.00" font-size="6.0" font-weight="bold" text-anchor="middle" fill="#111">0</text>
<line x1="232.32" y1="388.40" x2="232.32" y2="390.40" stroke="#111" stroke-width="0.8"/>
<text x="232.32" y="398.00" font-size="6.0" font-weight="bold" text-anchor="middle" fill="#111">25</text>
<line x1="257.45" y1="388.40" x2="257.45" y2="390.40" stroke="#111" stroke-width="0.8"/>
<text x="257.45" y="398.00" font-size="6.0" font-weight="bold" text-anchor="middle" fill="#111">50</text>
<line x1="282.57" y1="388.40" x2="282.57" y2="390.40" stroke="#111" stroke-width="0.8"/>
<text x="282.57" y="398.00" font-size="6.0" font-weight="bold" text-anchor="middle" fill="#111">75</text>
<line x1="307.70" y1="388.40" x2="307.70" y2="390.40" stroke="#111" stroke-width="0.8"/>
<text x="307.70" y="398.00" font-size="6.0" font-weight="bold" text-anchor="middle" fill="#111">100</text>
<line x1="205.20" y1="388.40" x2="207.20" y2="388.40" stroke="#111" stroke-width="0.8"/>
<text x="204.20" y="390.56" font-size="6.0" font-weight="bold" text-anchor="end" fill="#111">0</text>
<line x1="205.20" y1="368.12" x2="207.20" y2="368.12" stroke="#111" stroke-width="0.8"/>
<text x="204.20" y="370.29" font-size="6.0" font-weight="bold" text-anchor="end" fill="#111">10</text>
<line x1="205.20" y1="347.85" x2="207.20" y2="347.85" stroke="#111" stroke-width="0.8"/>
<text x="204.20" y="350.01" font-size="6.0" font-weight="bold" text-anchor="end" fill="#111">20</text>
<line x1="205.20" y1="327.57" x2="207.20" y2="327.57" stroke="#111" stroke-width="0.8"/>
<text x="204.20" y="329.74" font-size="6.0" font-weight="bold" text-anchor="end" fill="#111">30</text>
<line x1="205.20" y1="307.30" x2="207.20" y2="307.30" stroke="#111" stroke-width="0.8"/>
<text x="204.20" y="309.46" font-size="6.0" font-weight="bold" text-anchor="end" fill="#111">40</text>
<text x="268.00" y="408.50" font-size="6.8" font-weight="bold" text-anchor="middle" fill="#000">Days since tumor cell injection</text>
<text x="192.20" y="347.50" font-size="6.8" font-weight="bold" text-anchor="middle" fill="#000" transform="rotate(-90 192.2 347.5)">Blast frequency [%]</text>
<line x1="211.00" y1="313.00" x2="221.00" y2="313.00" stroke="#666" stroke-width="0.6"/>
<line x1="211.00" y1="319.70" x2="221.00" y2="319.70" stroke="#f04848" stroke-width="0.6"/>
<text x="223.30" y="315.45" font-size="6.8" text-anchor="start" fill="#333">vehicle</text>
<text x="223.30" y="322.15" font-size="6.8" text-anchor="start" fill="#333">VEN</text>
<polyline points="240.67,388.58 249.66,380.87 257.36,379.59 264.42,359.05 270.84,334.66" fill="none" stroke="#f42424" stroke-width="0.65"/>
<polyline points="244.53,388.58 253.51,382.16 257.36,382.16 264.42,360.33 277.90,334.02" fill="none" stroke="#f42424" stroke-width="0.65"/>
<polyline points="249.66,388.58 257.36,384.72 266.35,371.89 272.12,369.96 277.90,367.39 285.60,313.48" fill="none" stroke="#f42424" stroke-width="0.65"/>
<polyline points="257.36,388.58 263.78,384.72 272.12,369.96 277.90,366.75 285.60,325.03" fill="none" stroke="#f42424" stroke-width="0.65"/>
<polyline points="245.81,388.58 253.51,383.44 257.36,379.59 263.78,364.18 271.48,351.35 285.60,338.51" fill="none" stroke="#f42424" stroke-width="0.65"/>
<polyline points="257.36,388.58 312.56,388.58 327.97,382.16" fill="none" stroke="#f42424" stroke-width="0.65"/>
<polyline points="221.42,388.32 227.84,385.75 234.26,379.59 240.67,374.45 249.02,362.90 256.72,342.36" fill="none" stroke="#3a3a3a" stroke-width="0.5"/>
<polyline points="222.70,388.32 229.12,384.72 234.26,380.23 241.32,377.02 249.02,364.18 257.36,361.62 259.93,338.51 263.78,314.12" fill="none" stroke="#3a3a3a" stroke-width="0.5"/>
<polyline points="223.99,388.32 231.69,383.44 236.82,378.31 245.81,374.45 253.51,366.75 257.36,365.47 261.85,323.11" fill="none" stroke="#3a3a3a" stroke-width="0.5"/>
<polyline points="227.84,388.32 234.26,382.16 241.32,378.31 249.02,362.90 253.51,360.33" fill="none" stroke="#3a3a3a" stroke-width="0.5"/>
<polyline points="236.82,388.32 247.09,383.44 257.36,374.45 266.35,359.05 277.90,343.65 285.60,338.51" fill="none" stroke="#3a3a3a" stroke-width="0.5"/>
<text x="246.50" y="344.60" font-size="4.5" text-anchor="start" fill="#333">#288</text>
<text x="264.40" y="317.60" font-size="4.5" text-anchor="start" fill="#333">#281</text>
<text x="265.00" y="326.60" font-size="4.5" text-anchor="start" fill="#333">#284</text>
<text x="267.00" y="333.60" font-size="4.5" text-anchor="start" fill="#f42424">#287</text>
<text x="285.60" y="314.80" font-size="4.5" text-anchor="start" fill="#f42424">#282</text>
<text x="286.20" y="326.60" font-size="4.5" text-anchor="start" fill="#f42424">#277</text>
<text x="228.20" y="383.20" font-size="6.5" font-weight="bold" text-anchor="middle" fill="#000">*</text>
<text x="234.00" y="375.90" font-size="6.5" font-weight="bold" text-anchor="middle" fill="#000">*</text>
<text x="234.00" y="384.50" font-size="6.5" font-weight="bold" text-anchor="middle" fill="#000">*</text>
<text x="241.30" y="368.00" font-size="6.5" font-weight="bold" text-anchor="middle" fill="#000">*</text>
<text x="241.30" y="377.20" font-size="6.5" font-weight="bold" text-anchor="middle" fill="#000">*</text>
<text x="249.90" y="354.70" font-size="6.5" font-weight="bold" text-anchor="middle" fill="#000">*</text>
<text x="255.40" y="341.90" font-size="6.5" font-weight="bold" text-anchor="middle" fill="#000">*</text>
<text x="258.60" y="341.90" font-size="6.5" font-weight="bold" text-anchor="middle" fill="#000">*</text>
<text x="263.80" y="315.60" font-size="6.5" font-weight="bold" text-anchor="middle" fill="#000">*</text>
<text x="347.00" y="292.70" font-size="21.3" font-weight="bold" text-anchor="start" fill="#000">D</text>
<text x="445.50" y="297.00" font-size="7.6" font-weight="bold" text-anchor="middle" fill="#000">SEM-CDX</text>
<line x1="384.70" y1="387.90" x2="506.70" y2="387.90" stroke="#111" stroke-width="0.8"/>
<line x1="384.70" y1="388.30" x2="384.70" y2="307.90" stroke="#111" stroke-width="0.8"/>
<line x1="384.70" y1="387.90" x2="384.70" y2="389.90" stroke="#111" stroke-width="0.8"/>
<text x="384.70" y="397.50" font-size="6.0" font-weight="bold" text-anchor="middle" fill="#111">0</text>
<line x1="410.10" y1="387.90" x2="410.10" y2="389.90" stroke="#111" stroke-width="0.8"/>
<text x="410.10" y="397.50" font-size="6.0" font-weight="bold" text-anchor="middle" fill="#111">25</text>
<line x1="435.50" y1="387.90" x2="435.50" y2="389.90" stroke="#111" stroke-width="0.8"/>
<text x="435.50" y="397.50" font-size="6.0" font-weight="bold" text-anchor="middle" fill="#111">50</text>
<line x1="460.90" y1="387.90" x2="460.90" y2="389.90" stroke="#111" stroke-width="0.8"/>
<text x="460.90" y="397.50" font-size="6.0" font-weight="bold" text-anchor="middle" fill="#111">75</text>
<line x1="486.30" y1="387.90" x2="486.30" y2="389.90" stroke="#111" stroke-width="0.8"/>
<text x="486.30" y="397.50" font-size="6.0" font-weight="bold" text-anchor="middle" fill="#111">100</text>
<line x1="382.70" y1="387.90" x2="384.70" y2="387.90" stroke="#111" stroke-width="0.8"/>
<text x="381.70" y="390.06" font-size="6.0" font-weight="bold" text-anchor="end" fill="#111">0</text>
<line x1="382.70" y1="369.59" x2="384.70" y2="369.59" stroke="#111" stroke-width="0.8"/>
<text x="381.70" y="371.75" font-size="6.0" font-weight="bold" text-anchor="end" fill="#111">25</text>
<line x1="382.70" y1="351.27" x2="384.70" y2="351.27" stroke="#111" stroke-width="0.8"/>
<text x="381.70" y="353.44" font-size="6.0" font-weight="bold" text-anchor="end" fill="#111">50</text>
<line x1="382.70" y1="332.96" x2="384.70" y2="332.96" stroke="#111" stroke-width="0.8"/>
<text x="381.70" y="335.12" font-size="6.0" font-weight="bold" text-anchor="end" fill="#111">75</text>
<line x1="382.70" y1="314.65" x2="384.70" y2="314.65" stroke="#111" stroke-width="0.8"/>
<text x="381.70" y="316.81" font-size="6.0" font-weight="bold" text-anchor="end" fill="#111">100</text>
<text x="445.50" y="408.00" font-size="6.8" font-weight="bold" text-anchor="middle" fill="#000">Days since tumor cell injection</text>
<text x="367.20" y="348.00" font-size="6.8" font-weight="bold" text-anchor="middle" fill="#000" transform="rotate(-90 367.2 348.0)">Survival [%]</text>
<polyline points="416.70,314.65 437.53,314.65 437.53,326.88 448.71,326.88 448.71,339.04 449.72,339.04 449.72,363.51 471.06,363.51 471.06,375.67 506.62,375.67 506.62,375.67" fill="none" stroke="#f21c1c" stroke-width="1.1"/>
<polyline points="384.70,314.65 416.20,314.65 416.20,326.88 420.26,326.88 420.26,339.04 435.50,339.04 435.50,351.27 449.22,351.27 449.22,375.67 456.84,375.67 456.84,387.90" fill="none" stroke="#606060" stroke-width="0.9"/>
<line x1="420.67" y1="314.65" x2="420.67" y2="313.15" stroke="#f21c1c" stroke-width="0.6"/>
<line x1="430.52" y1="314.65" x2="430.52" y2="313.15" stroke="#f21c1c" stroke-width="0.6"/>
<line x1="506.62" y1="376.67" x2="506.62" y2="374.17" stroke="#f21c1c" stroke-width="0.8"/>
<line x1="470.30" y1="320.00" x2="481.30" y2="320.00" stroke="#555" stroke-width="0.8"/>
<line x1="470.30" y1="327.00" x2="481.30" y2="327.00" stroke="#f21c1c" stroke-width="1.1"/>
<line x1="475.80" y1="318.50" x2="475.80" y2="320.00" stroke="#555" stroke-width="0.6"/>
<line x1="475.80" y1="325.50" x2="475.80" y2="327.00" stroke="#f21c1c" stroke-width="0.6"/>
<text x="483.50" y="322.40" font-size="6.9" text-anchor="start" fill="#333">vehicle</text>
<text x="483.50" y="329.40" font-size="6.9" text-anchor="start" fill="#333">VEN</text>
<text x="386.20" y="374.30" font-size="4.6" text-anchor="start" fill="#333">median survival: p =0.14</text>
<text x="386.20" y="378.60" font-size="4.6" text-anchor="start" fill="#333">vehicle:</text>
<text x="406.70" y="378.60" font-size="4.6" text-anchor="start" fill="#333">57.0 days</text>
<text x="386.20" y="383.60" font-size="4.6" text-anchor="start" fill="#333">VEN:</text>
<text x="406.70" y="383.60" font-size="4.6" text-anchor="start" fill="#333">64.0 days</text>
<text x="614.20" y="297.00" font-size="7.6" font-weight="bold" text-anchor="middle" fill="#000">RS4;11-CDX</text>
<line x1="553.40" y1="388.00" x2="674.80" y2="388.00" stroke="#111" stroke-width="0.8"/>
<line x1="553.40" y1="388.40" x2="553.40" y2="308.00" stroke="#111" stroke-width="0.8"/>
<line x1="553.40" y1="388.00" x2="553.40" y2="390.00" stroke="#111" stroke-width="0.8"/>
<text x="553.40" y="397.60" font-size="6.0" font-weight="bold" text-anchor="middle" fill="#111">0</text>
<line x1="578.80" y1="388.00" x2="578.80" y2="390.00" stroke="#111" stroke-width="0.8"/>
<text x="578.80" y="397.60" font-size="6.0" font-weight="bold" text-anchor="middle" fill="#111">25</text>
<line x1="604.20" y1="388.00" x2="604.20" y2="390.00" stroke="#111" stroke-width="0.8"/>
<text x="604.20" y="397.60" font-size="6.0" font-weight="bold" text-anchor="middle" fill="#111">50</text>
<line x1="629.60" y1="388.00" x2="629.60" y2="390.00" stroke="#111" stroke-width="0.8"/>
<text x="629.60" y="397.60" font-size="6.0" font-weight="bold" text-anchor="middle" fill="#111">75</text>
<line x1="655.00" y1="388.00" x2="655.00" y2="390.00" stroke="#111" stroke-width="0.8"/>
<text x="655.00" y="397.60" font-size="6.0" font-weight="bold" text-anchor="middle" fill="#111">100</text>
<line x1="551.40" y1="388.00" x2="553.40" y2="388.00" stroke="#111" stroke-width="0.8"/>
<text x="550.40" y="390.16" font-size="6.0" font-weight="bold" text-anchor="end" fill="#111">0</text>
<line x1="551.40" y1="369.69" x2="553.40" y2="369.69" stroke="#111" stroke-width="0.8"/>
<text x="550.40" y="371.85" font-size="6.0" font-weight="bold" text-anchor="end" fill="#111">25</text>
<line x1="551.40" y1="351.38" x2="553.40" y2="351.38" stroke="#111" stroke-width="0.8"/>
<text x="550.40" y="353.54" font-size="6.0" font-weight="bold" text-anchor="end" fill="#111">50</text>
<line x1="551.40" y1="333.06" x2="553.40" y2="333.06" stroke="#111" stroke-width="0.8"/>
<text x="550.40" y="335.22" font-size="6.0" font-weight="bold" text-anchor="end" fill="#111">75</text>
<line x1="551.40" y1="314.75" x2="553.40" y2="314.75" stroke="#111" stroke-width="0.8"/>
<text x="550.40" y="316.91" font-size="6.0" font-weight="bold" text-anchor="end" fill="#111">100</text>
<text x="614.20" y="408.00" font-size="6.8" font-weight="bold" text-anchor="middle" fill="#000">Days since tumor cell injection</text>
<text x="535.90" y="348.00" font-size="6.8" font-weight="bold" text-anchor="middle" fill="#000" transform="rotate(-90 535.9 348.0)">Survival [%]</text>
<polyline points="603.18,314.75 618.42,314.75 618.42,326.98 628.58,326.98 628.58,339.14 631.63,339.14 631.63,375.77 675.32,375.77 675.32,375.77" fill="none" stroke="#f21c1c" stroke-width="1.1"/>
<polyline points="553.40,314.75 603.18,314.75 603.18,344.05 611.31,344.05 611.31,373.35 624.52,373.35 624.52,388.00" fill="none" stroke="#606060" stroke-width="0.9"/>
<line x1="575.96" y1="314.75" x2="575.96" y2="313.25" stroke="#f21c1c" stroke-width="0.6"/>
<line x1="675.32" y1="376.77" x2="675.32" y2="374.27" stroke="#f21c1c" stroke-width="0.8"/>
<line x1="638.40" y1="320.00" x2="649.40" y2="320.00" stroke="#555" stroke-width="0.8"/>
<line x1="638.40" y1="327.00" x2="649.40" y2="327.00" stroke="#f21c1c" stroke-width="1.1"/>
<line x1="643.90" y1="318.50" x2="643.90" y2="320.00" stroke="#555" stroke-width="0.6"/>
<line x1="643.90" y1="325.50" x2="643.90" y2="327.00" stroke="#f21c1c" stroke-width="0.6"/>
<text x="651.60" y="322.40" font-size="6.9" text-anchor="start" fill="#333">vehicle</text>
<text x="651.60" y="329.40" font-size="6.9" text-anchor="start" fill="#333">VEN</text>
<text x="554.90" y="374.30" font-size="4.6" text-anchor="start" fill="#333">median survival: p =0.0029</text>
<text x="554.90" y="378.60" font-size="4.6" text-anchor="start" fill="#333">vehicle:</text>
<text x="575.40" y="378.60" font-size="4.6" text-anchor="start" fill="#333">57.0 days</text>
<text x="554.90" y="383.60" font-size="4.6" text-anchor="start" fill="#333">VEN:</text>
<text x="575.40" y="383.60" font-size="4.6" text-anchor="start" fill="#333">77.0 days</text>
<text x="621.00" y="361.00" font-size="7" font-weight="bold" text-anchor="middle" fill="#000">**</text>
<text x="0.90" y="436.10" font-size="21.3" font-weight="bold" text-anchor="start" fill="#000">E</text>
<text x="70.00" y="445.20" font-size="6.9" font-weight="bold" text-anchor="middle" fill="#000">SEM-CDX</text>
<line x1="34.10" y1="524.20" x2="104.00" y2="524.20" stroke="#111" stroke-width="0.8"/>
<line x1="34.10" y1="524.60" x2="34.10" y2="453.50" stroke="#111" stroke-width="0.8"/>
<line x1="45.20" y1="524.20" x2="45.20" y2="526.20" stroke="#111" stroke-width="0.8"/>
<line x1="59.20" y1="524.20" x2="59.20" y2="526.20" stroke="#111" stroke-width="0.8"/>
<line x1="79.60" y1="524.20" x2="79.60" y2="526.20" stroke="#111" stroke-width="0.8"/>
<line x1="93.60" y1="524.20" x2="93.60" y2="526.20" stroke="#111" stroke-width="0.8"/>
<line x1="32.10" y1="524.20" x2="34.10" y2="524.20" stroke="#111" stroke-width="0.8"/>
<text x="31.10" y="526.18" font-size="5.5" font-weight="bold" text-anchor="end" fill="#111">0</text>
<line x1="32.10" y1="510.06" x2="34.10" y2="510.06" stroke="#111" stroke-width="0.8"/>
<text x="31.10" y="512.04" font-size="5.5" font-weight="bold" text-anchor="end" fill="#111">100</text>
<line x1="32.10" y1="495.92" x2="34.10" y2="495.92" stroke="#111" stroke-width="0.8"/>
<text x="31.10" y="497.90" font-size="5.5" font-weight="bold" text-anchor="end" fill="#111">200</text>
<line x1="32.10" y1="481.78" x2="34.10" y2="481.78" stroke="#111" stroke-width="0.8"/>
<text x="31.10" y="483.76" font-size="5.5" font-weight="bold" text-anchor="end" fill="#111">300</text>
<line x1="32.10" y1="467.64" x2="34.10" y2="467.64" stroke="#111" stroke-width="0.8"/>
<text x="31.10" y="469.62" font-size="5.5" font-weight="bold" text-anchor="end" fill="#111">400</text>
<line x1="32.10" y1="453.50" x2="34.10" y2="453.50" stroke="#111" stroke-width="0.8"/>
<text x="31.10" y="455.48" font-size="5.5" font-weight="bold" text-anchor="end" fill="#111">500</text>
<text x="51.60" y="534.40" font-size="6.0" text-anchor="middle" fill="#111">early</text>
<text x="51.60" y="540.30" font-size="6.0" text-anchor="middle" fill="#111">proliferation</text>
<text x="87.30" y="534.40" font-size="6.0" text-anchor="middle" fill="#111">late</text>
<text x="87.30" y="540.30" font-size="6.0" text-anchor="middle" fill="#111">proliferation</text>
<text x="11.40" y="489.00" font-size="6.0" font-weight="bold" text-anchor="middle" fill="#000" transform="rotate(-90 11.4 489.0)">Relative doubling time</text>
<text x="18.40" y="489.00" font-size="6.0" font-weight="bold" text-anchor="middle" fill="#000" transform="rotate(-90 18.4 489.0)">[% vehicle]</text>
<text x="79.40" y="459.20" font-size="6.0" text-anchor="start" fill="#555">vehicle</text>
<text x="79.40" y="465.40" font-size="6.0" text-anchor="start" fill="#f01818">VEN</text>
<rect x="40.38" y="510.06" width="9.95" height="14.14" fill="none" stroke="#333" stroke-width="0.95"/>
<line x1="45.20" y1="510.06" x2="45.20" y2="502.00" stroke="#333" stroke-width="0.6"/>
<line x1="43.20" y1="502.00" x2="47.20" y2="502.00" stroke="#333" stroke-width="0.6"/>
<circle cx="44.86" cy="501.53" r="0.8" fill="#111"/>
<circle cx="48.25" cy="501.38" r="0.8" fill="#111"/>
<circle cx="45.26" cy="503.27" r="0.8" fill="#111"/>
<circle cx="42.93" cy="503.15" r="0.8" fill="#111"/>
<circle cx="46.14" cy="505.44" r="0.8" fill="#111"/>
<circle cx="42.28" cy="504.66" r="0.8" fill="#111"/>
<circle cx="42.25" cy="505.47" r="0.8" fill="#111"/>
<circle cx="46.59" cy="505.93" r="0.8" fill="#111"/>
<circle cx="48.67" cy="507.41" r="0.8" fill="#111"/>
<circle cx="46.31" cy="506.85" r="0.8" fill="#111"/>
<circle cx="42.73" cy="507.73" r="0.8" fill="#111"/>
<circle cx="45.40" cy="507.80" r="0.8" fill="#111"/>
<circle cx="42.97" cy="509.79" r="0.8" fill="#111"/>
<circle cx="41.82" cy="510.14" r="0.8" fill="#111"/>
<circle cx="44.77" cy="513.72" r="0.8" fill="#111"/>
<circle cx="45.34" cy="515.66" r="0.8" fill="#111"/>
<circle cx="45.20" cy="515.69" r="0.8" fill="#111"/>
<circle cx="44.89" cy="517.48" r="0.8" fill="#111"/>
<circle cx="48.78" cy="520.89" r="0.8" fill="#111"/>
<circle cx="47.65" cy="520.43" r="0.8" fill="#111"/>
<rect x="54.48" y="502.14" width="9.85" height="22.06" fill="none" stroke="#f01818" stroke-width="0.95"/>
<line x1="59.20" y1="502.14" x2="59.20" y2="489.70" stroke="#f01818" stroke-width="0.6"/>
<line x1="57.20" y1="489.70" x2="61.20" y2="489.70" stroke="#f01818" stroke-width="0.6"/>
<circle cx="57.87" cy="465.93" r="0.8" fill="#111"/>
<circle cx="57.68" cy="481.52" r="0.8" fill="#111"/>
<circle cx="61.12" cy="482.04" r="0.8" fill="#111"/>
<circle cx="61.70" cy="482.02" r="0.8" fill="#111"/>
<circle cx="62.50" cy="482.76" r="0.8" fill="#111"/>
<circle cx="55.60" cy="489.80" r="0.8" fill="#111"/>
<circle cx="62.15" cy="490.92" r="0.8" fill="#111"/>
<circle cx="62.66" cy="500.14" r="0.8" fill="#111"/>
<circle cx="56.13" cy="502.21" r="0.8" fill="#111"/>
<circle cx="61.21" cy="503.33" r="0.8" fill="#111"/>
<circle cx="56.23" cy="503.43" r="0.8" fill="#111"/>
<circle cx="62.54" cy="504.11" r="0.8" fill="#111"/>
<circle cx="56.45" cy="505.13" r="0.8" fill="#111"/>
<circle cx="56.33" cy="504.83" r="0.8" fill="#111"/>
<circle cx="61.34" cy="505.02" r="0.8" fill="#111"/>
<circle cx="59.63" cy="507.15" r="0.8" fill="#111"/>
<circle cx="56.97" cy="507.60" r="0.8" fill="#111"/>
<circle cx="56.54" cy="509.30" r="0.8" fill="#111"/>
<circle cx="56.44" cy="508.94" r="0.8" fill="#111"/>
<circle cx="57.13" cy="508.70" r="0.8" fill="#111"/>
<circle cx="62.59" cy="511.25" r="0.8" fill="#111"/>
<circle cx="57.79" cy="511.38" r="0.8" fill="#111"/>
<circle cx="57.12" cy="510.60" r="0.8" fill="#111"/>
<circle cx="61.75" cy="512.69" r="0.8" fill="#111"/>
<circle cx="56.32" cy="513.25" r="0.8" fill="#111"/>
<circle cx="57.14" cy="513.92" r="0.8" fill="#111"/>
<rect x="74.57" y="510.06" width="9.85" height="14.14" fill="none" stroke="#333" stroke-width="0.95"/>
<line x1="79.60" y1="510.06" x2="79.60" y2="503.13" stroke="#333" stroke-width="0.6"/>
<line x1="77.60" y1="503.13" x2="81.60" y2="503.13" stroke="#333" stroke-width="0.6"/>
<circle cx="81.56" cy="497.06" r="0.8" fill="#111"/>
<circle cx="78.13" cy="496.65" r="0.8" fill="#111"/>
<circle cx="76.65" cy="499.16" r="0.8" fill="#111"/>
<circle cx="77.75" cy="505.13" r="0.8" fill="#111"/>
<circle cx="78.68" cy="504.89" r="0.8" fill="#111"/>
<circle cx="82.91" cy="504.94" r="0.8" fill="#111"/>
<circle cx="80.14" cy="507.25" r="0.8" fill="#111"/>
<circle cx="77.32" cy="506.11" r="0.8" fill="#111"/>
<circle cx="82.54" cy="507.17" r="0.8" fill="#111"/>
<circle cx="77.80" cy="508.01" r="0.8" fill="#111"/>
<circle cx="81.32" cy="509.21" r="0.8" fill="#111"/>
<circle cx="77.42" cy="510.92" r="0.8" fill="#111"/>
<circle cx="82.35" cy="510.37" r="0.8" fill="#111"/>
<circle cx="79.03" cy="511.41" r="0.8" fill="#111"/>
<circle cx="76.28" cy="512.78" r="0.8" fill="#111"/>
<circle cx="77.72" cy="514.06" r="0.8" fill="#111"/>
<circle cx="77.85" cy="514.25" r="0.8" fill="#111"/>
<circle cx="80.29" cy="515.10" r="0.8" fill="#111"/>
<circle cx="77.26" cy="515.79" r="0.8" fill="#111"/>
<circle cx="76.50" cy="517.40" r="0.8" fill="#111"/>
<circle cx="80.03" cy="520.10" r="0.8" fill="#111"/>
<circle cx="80.42" cy="519.18" r="0.8" fill="#111"/>
<rect x="87.97" y="513.31" width="9.85" height="10.89" fill="none" stroke="#f01818" stroke-width="0.95"/>
<line x1="93.60" y1="513.31" x2="93.60" y2="507.23" stroke="#f01818" stroke-width="0.6"/>
<line x1="91.60" y1="507.23" x2="95.60" y2="507.23" stroke="#f01818" stroke-width="0.6"/>
<circle cx="96.60" cy="506.19" r="0.8" fill="#111"/>
<circle cx="90.12" cy="506.30" r="0.8" fill="#111"/>
<circle cx="93.21" cy="507.80" r="0.8" fill="#111"/>
<circle cx="91.27" cy="509.99" r="0.8" fill="#111"/>
<circle cx="94.12" cy="509.61" r="0.8" fill="#111"/>
<circle cx="92.61" cy="512.67" r="0.8" fill="#111"/>
<circle cx="97.06" cy="512.29" r="0.8" fill="#111"/>
<circle cx="94.98" cy="513.87" r="0.8" fill="#111"/>
<circle cx="91.01" cy="512.99" r="0.8" fill="#111"/>
<circle cx="90.13" cy="514.39" r="0.8" fill="#111"/>
<circle cx="95.05" cy="516.17" r="0.8" fill="#111"/>
<circle cx="90.15" cy="515.65" r="0.8" fill="#111"/>
<circle cx="93.47" cy="515.80" r="0.8" fill="#111"/>
<circle cx="92.30" cy="518.07" r="0.8" fill="#111"/>
<circle cx="90.54" cy="517.35" r="0.8" fill="#111"/>
<circle cx="95.31" cy="520.74" r="0.8" fill="#111"/>
<circle cx="95.31" cy="520.43" r="0.8" fill="#111"/>
<line x1="44.60" y1="475.10" x2="58.60" y2="475.10" stroke="#222" stroke-width="0.65"/>
<line x1="44.60" y1="474.80" x2="44.60" y2="478.00" stroke="#222" stroke-width="0.65"/>
<line x1="58.60" y1="474.80" x2="58.60" y2="478.00" stroke="#222" stroke-width="0.65"/>
<text x="51.30" y="472.85" font-size="4.0" text-anchor="middle" fill="#333">p=0.1589</text>
<line x1="60.10" y1="475.10" x2="93.60" y2="475.10" stroke="#222" stroke-width="0.65"/>
<line x1="60.10" y1="474.80" x2="60.10" y2="478.00" stroke="#222" stroke-width="0.65"/>
<line x1="93.60" y1="474.80" x2="93.60" y2="478.00" stroke="#222" stroke-width="0.65"/>
<text x="76.60" y="472.25" font-size="4.0" text-anchor="middle" fill="#333">*p=0.0139</text>
<line x1="79.00" y1="489.10" x2="93.60" y2="489.10" stroke="#222" stroke-width="0.65"/>
<line x1="79.00" y1="488.80" x2="79.00" y2="492.00" stroke="#222" stroke-width="0.65"/>
<line x1="93.60" y1="488.80" x2="93.60" y2="492.00" stroke="#222" stroke-width="0.65"/>
<text x="86.00" y="486.45" font-size="4.0" text-anchor="middle" fill="#333">p=0.4121</text>
<text x="216.00" y="445.60" font-size="6.9" font-weight="bold" text-anchor="middle" fill="#000">RS4;11-CDX</text>
<line x1="177.70" y1="530.20" x2="253.30" y2="530.20" stroke="#111" stroke-width="0.8"/>
<line x1="177.70" y1="530.60" x2="177.70" y2="455.50" stroke="#111" stroke-width="0.8"/>
<line x1="189.80" y1="530.20" x2="189.80" y2="532.20" stroke="#111" stroke-width="0.8"/>
<line x1="205.10" y1="530.20" x2="205.10" y2="532.20" stroke="#111" stroke-width="0.8"/>
<line x1="226.50" y1="530.20" x2="226.50" y2="532.20" stroke="#111" stroke-width="0.8"/>
<line x1="241.40" y1="530.20" x2="241.40" y2="532.20" stroke="#111" stroke-width="0.8"/>
<line x1="175.70" y1="530.20" x2="177.70" y2="530.20" stroke="#111" stroke-width="0.8"/>
<text x="174.70" y="532.18" font-size="5.5" font-weight="bold" text-anchor="end" fill="#111">0</text>
<line x1="175.70" y1="515.26" x2="177.70" y2="515.26" stroke="#111" stroke-width="0.8"/>
<text x="174.70" y="517.24" font-size="5.5" font-weight="bold" text-anchor="end" fill="#111">100</text>
<line x1="175.70" y1="500.32" x2="177.70" y2="500.32" stroke="#111" stroke-width="0.8"/>
<text x="174.70" y="502.30" font-size="5.5" font-weight="bold" text-anchor="end" fill="#111">200</text>
<line x1="175.70" y1="485.38" x2="177.70" y2="485.38" stroke="#111" stroke-width="0.8"/>
<text x="174.70" y="487.36" font-size="5.5" font-weight="bold" text-anchor="end" fill="#111">300</text>
<line x1="175.70" y1="470.44" x2="177.70" y2="470.44" stroke="#111" stroke-width="0.8"/>
<text x="174.70" y="472.42" font-size="5.5" font-weight="bold" text-anchor="end" fill="#111">400</text>
<line x1="175.70" y1="455.50" x2="177.70" y2="455.50" stroke="#111" stroke-width="0.8"/>
<text x="174.70" y="457.48" font-size="5.5" font-weight="bold" text-anchor="end" fill="#111">500</text>
<text x="196.60" y="540.90" font-size="5.75" font-weight="bold" text-anchor="middle" fill="#222">early</text>
<text x="196.60" y="547.30" font-size="5.75" font-weight="bold" text-anchor="middle" fill="#222">proliferation</text>
<text x="234.70" y="540.90" font-size="5.75" font-weight="bold" text-anchor="middle" fill="#222">late</text>
<text x="234.70" y="547.30" font-size="5.75" font-weight="bold" text-anchor="middle" fill="#222">proliferation</text>
<text x="152.60" y="493.00" font-size="6.0" font-weight="bold" text-anchor="middle" fill="#000" transform="rotate(-90 152.6 493.0)">Relative doubling time</text>
<text x="160.80" y="493.00" font-size="6.0" font-weight="bold" text-anchor="middle" fill="#000" transform="rotate(-90 160.8 493.0)">[% vehicle]</text>
<text x="226.90" y="460.90" font-size="6.0" text-anchor="start" fill="#555">vehicle</text>
<text x="226.90" y="467.40" font-size="6.0" text-anchor="start" fill="#f01818">VEN</text>
<rect x="184.57" y="516.16" width="10.55" height="14.04" fill="none" stroke="#333" stroke-width="0.95"/>
<line x1="189.80" y1="516.16" x2="189.80" y2="506.45" stroke="#333" stroke-width="0.6"/>
<line x1="187.80" y1="506.45" x2="191.80" y2="506.45" stroke="#333" stroke-width="0.6"/>
<circle cx="189.80" cy="503.31" r="0.8" fill="#111"/>
<circle cx="188.75" cy="507.94" r="0.8" fill="#111"/>
<circle cx="190.85" cy="507.94" r="0.8" fill="#111"/>
<circle cx="187.70" cy="513.02" r="0.8" fill="#111"/>
<circle cx="189.80" cy="513.02" r="0.8" fill="#111"/>
<circle cx="191.90" cy="514.21" r="0.8" fill="#111"/>
<circle cx="189.80" cy="519.00" r="0.8" fill="#111"/>
<circle cx="188.75" cy="521.53" r="0.8" fill="#111"/>
<circle cx="190.85" cy="521.53" r="0.8" fill="#111"/>
<circle cx="188.75" cy="524.22" r="0.8" fill="#111"/>
<circle cx="190.85" cy="524.22" r="0.8" fill="#111"/>
<rect x="199.67" y="501.22" width="10.65" height="28.98" fill="none" stroke="#f01818" stroke-width="0.95"/>
<line x1="205.10" y1="501.22" x2="205.10" y2="487.47" stroke="#f01818" stroke-width="0.6"/>
<line x1="203.10" y1="487.47" x2="207.10" y2="487.47" stroke="#f01818" stroke-width="0.6"/>
<circle cx="205.10" cy="459.09" r="0.8" fill="#111"/>
<circle cx="205.10" cy="467.00" r="0.8" fill="#111"/>
<circle cx="203.00" cy="487.62" r="0.8" fill="#111"/>
<circle cx="205.10" cy="488.82" r="0.8" fill="#111"/>
<circle cx="207.20" cy="488.82" r="0.8" fill="#111"/>
<circle cx="200.90" cy="492.10" r="0.8" fill="#111"/>
<circle cx="203.00" cy="492.10" r="0.8" fill="#111"/>
<circle cx="205.10" cy="492.10" r="0.8" fill="#111"/>
<circle cx="207.20" cy="492.10" r="0.8" fill="#111"/>
<circle cx="209.30" cy="492.10" r="0.8" fill="#111"/>
<circle cx="201.95" cy="498.38" r="0.8" fill="#111"/>
<circle cx="204.05" cy="498.38" r="0.8" fill="#111"/>
<circle cx="206.15" cy="498.38" r="0.8" fill="#111"/>
<circle cx="208.25" cy="498.38" r="0.8" fill="#111"/>
<circle cx="204.05" cy="503.31" r="0.8" fill="#111"/>
<circle cx="206.15" cy="503.31" r="0.8" fill="#111"/>
<circle cx="205.10" cy="505.70" r="0.8" fill="#111"/>
<circle cx="201.95" cy="508.09" r="0.8" fill="#111"/>
<circle cx="204.05" cy="508.09" r="0.8" fill="#111"/>
<circle cx="206.15" cy="508.09" r="0.8" fill="#111"/>
<circle cx="208.25" cy="508.09" r="0.8" fill="#111"/>
<circle cx="203.00" cy="510.63" r="0.8" fill="#111"/>
<circle cx="205.10" cy="510.63" r="0.8" fill="#111"/>
<circle cx="207.20" cy="510.63" r="0.8" fill="#111"/>
<circle cx="204.05" cy="513.02" r="0.8" fill="#111"/>
<circle cx="206.15" cy="513.02" r="0.8" fill="#111"/>
<circle cx="201.95" cy="516.01" r="0.8" fill="#111"/>
<circle cx="204.05" cy="516.01" r="0.8" fill="#111"/>
<circle cx="206.15" cy="516.01" r="0.8" fill="#111"/>
<circle cx="208.25" cy="516.01" r="0.8" fill="#111"/>
<rect x="221.28" y="516.16" width="10.25" height="14.04" fill="none" stroke="#333" stroke-width="0.95"/>
<line x1="226.50" y1="516.16" x2="226.50" y2="509.43" stroke="#333" stroke-width="0.6"/>
<line x1="224.50" y1="509.43" x2="228.50" y2="509.43" stroke="#333" stroke-width="0.6"/>
<circle cx="226.50" cy="502.71" r="0.8" fill="#111"/>
<circle cx="225.45" cy="505.70" r="0.8" fill="#111"/>
<circle cx="227.55" cy="506.89" r="0.8" fill="#111"/>
<circle cx="224.40" cy="510.63" r="0.8" fill="#111"/>
<circle cx="226.50" cy="511.82" r="0.8" fill="#111"/>
<circle cx="228.60" cy="513.02" r="0.8" fill="#111"/>
<circle cx="223.35" cy="515.41" r="0.8" fill="#111"/>
<circle cx="225.45" cy="515.41" r="0.8" fill="#111"/>
<circle cx="227.55" cy="515.41" r="0.8" fill="#111"/>
<circle cx="229.65" cy="515.41" r="0.8" fill="#111"/>
<circle cx="226.50" cy="517.20" r="0.8" fill="#111"/>
<circle cx="225.45" cy="519.59" r="0.8" fill="#111"/>
<circle cx="227.55" cy="519.59" r="0.8" fill="#111"/>
<circle cx="225.45" cy="521.53" r="0.8" fill="#111"/>
<circle cx="227.55" cy="521.53" r="0.8" fill="#111"/>
<circle cx="225.45" cy="523.33" r="0.8" fill="#111"/>
<circle cx="227.55" cy="523.33" r="0.8" fill="#111"/>
<rect x="236.07" y="518.10" width="10.85" height="12.10" fill="none" stroke="#f01818" stroke-width="0.95"/>
<line x1="241.40" y1="518.10" x2="241.40" y2="513.02" stroke="#f01818" stroke-width="0.6"/>
<line x1="239.40" y1="513.02" x2="243.40" y2="513.02" stroke="#f01818" stroke-width="0.6"/>
<circle cx="241.40" cy="506.30" r="0.8" fill="#111"/>
<circle cx="240.35" cy="509.43" r="0.8" fill="#111"/>
<circle cx="242.45" cy="509.43" r="0.8" fill="#111"/>
<circle cx="241.40" cy="513.02" r="0.8" fill="#111"/>
<circle cx="238.25" cy="516.01" r="0.8" fill="#111"/>
<circle cx="240.35" cy="517.20" r="0.8" fill="#111"/>
<circle cx="242.45" cy="517.20" r="0.8" fill="#111"/>
<circle cx="244.55" cy="517.20" r="0.8" fill="#111"/>
<circle cx="239.30" cy="519.59" r="0.8" fill="#111"/>
<circle cx="241.40" cy="519.59" r="0.8" fill="#111"/>
<circle cx="243.50" cy="519.59" r="0.8" fill="#111"/>
<circle cx="239.30" cy="522.13" r="0.8" fill="#111"/>
<circle cx="241.40" cy="522.13" r="0.8" fill="#111"/>
<circle cx="243.50" cy="522.13" r="0.8" fill="#111"/>
<line x1="189.80" y1="478.80" x2="205.10" y2="478.80" stroke="#222" stroke-width="0.65"/>
<line x1="189.80" y1="478.50" x2="189.80" y2="482.50" stroke="#222" stroke-width="0.65"/>
<line x1="205.10" y1="478.50" x2="205.10" y2="482.50" stroke="#222" stroke-width="0.65"/>
<text x="197.10" y="475.05" font-size="4.0" text-anchor="middle" fill="#333">**p=0.0206</text>
<line x1="206.30" y1="478.80" x2="241.40" y2="478.80" stroke="#222" stroke-width="0.65"/>
<line x1="206.30" y1="478.50" x2="206.30" y2="482.50" stroke="#222" stroke-width="0.65"/>
<line x1="241.40" y1="478.50" x2="241.40" y2="482.50" stroke="#222" stroke-width="0.65"/>
<text x="223.50" y="475.05" font-size="4.0" text-anchor="middle" fill="#333">***p=0.0001</text>
<line x1="226.50" y1="492.70" x2="241.40" y2="492.70" stroke="#222" stroke-width="0.65"/>
<line x1="226.50" y1="492.40" x2="226.50" y2="496.00" stroke="#222" stroke-width="0.65"/>
<line x1="241.40" y1="492.40" x2="241.40" y2="496.00" stroke="#222" stroke-width="0.65"/>
<text x="234.00" y="490.25" font-size="4.0" text-anchor="middle" fill="#333">p=0.2588</text>
<text x="1.90" y="580.80" font-size="21.3" font-weight="bold" text-anchor="start" fill="#000">F</text>
<text x="78.30" y="590.60" font-size="7.6" font-weight="bold" text-anchor="middle" fill="#000">SEM-CDX</text>
<line x1="38.30" y1="681.30" x2="119.20" y2="681.30" stroke="#111" stroke-width="0.8"/>
<line x1="38.30" y1="681.70" x2="38.30" y2="600.90" stroke="#111" stroke-width="0.8"/>
<line x1="50.80" y1="681.30" x2="50.80" y2="683.30" stroke="#111" stroke-width="0.8"/>
<line x1="78.60" y1="681.30" x2="78.60" y2="683.30" stroke="#111" stroke-width="0.8"/>
<line x1="106.60" y1="681.30" x2="106.60" y2="683.30" stroke="#111" stroke-width="0.8"/>
<line x1="36.30" y1="681.30" x2="38.30" y2="681.30" stroke="#111" stroke-width="0.8"/>
<text x="35.30" y="683.39" font-size="5.8" font-weight="bold" text-anchor="end" fill="#111">0</text>
<line x1="36.30" y1="648.00" x2="38.30" y2="648.00" stroke="#111" stroke-width="0.8"/>
<text x="35.30" y="650.09" font-size="5.8" font-weight="bold" text-anchor="end" fill="#111">50</text>
<line x1="36.30" y1="614.70" x2="38.30" y2="614.70" stroke="#111" stroke-width="0.8"/>
<text x="35.30" y="616.79" font-size="5.8" font-weight="bold" text-anchor="end" fill="#111">100</text>
<text x="50.80" y="691.20" font-size="6.25" font-weight="bold" text-anchor="middle" fill="#000">bone</text>
<text x="50.80" y="698.70" font-size="6.25" font-weight="bold" text-anchor="middle" fill="#000">marrow</text>
<text x="78.60" y="691.20" font-size="6.25" font-weight="bold" text-anchor="middle" fill="#000">spleen</text>
<text x="106.60" y="691.20" font-size="6.25" font-weight="bold" text-anchor="middle" fill="#000">blood</text>
<text x="11.8" y="641.0" font-size="6.3" font-weight="bold" text-anchor="middle" fill="#000" transform="rotate(-90 11.8 641.0)">GFP<tspan font-size="4.2" dy="-2.4">+</tspan><tspan dy="2.4"> blast frequency at</tspan></text>
<text x="19.00" y="641.00" font-size="6.3" font-weight="bold" text-anchor="middle" fill="#000" transform="rotate(-90 19.0 641.0)">experimental endpoint [%]</text>
<text x="96.10" y="608.80" font-size="6.5" text-anchor="start" fill="#555">vehicle</text>
<text x="96.10" y="615.60" font-size="6.5" text-anchor="start" fill="#f01818">VEN</text>
<rect x="42.68" y="620.23" width="5.65" height="61.07" fill="none" stroke="#333" stroke-width="0.95"/>
<line x1="45.50" y1="620.23" x2="45.50" y2="618.03" stroke="#333" stroke-width="0.6"/>
<line x1="43.90" y1="618.03" x2="47.10" y2="618.03" stroke="#333" stroke-width="0.6"/>
<circle cx="42.65" cy="618.03" r="0.85" fill="#111"/>
<circle cx="44.55" cy="618.70" r="0.85" fill="#111"/>
<circle cx="46.45" cy="618.70" r="0.85" fill="#111"/>
<circle cx="48.35" cy="619.36" r="0.85" fill="#111"/>
<circle cx="43.60" cy="620.69" r="0.85" fill="#111"/>
<circle cx="45.50" cy="621.36" r="0.85" fill="#111"/>
<circle cx="47.40" cy="622.03" r="0.85" fill="#111"/>
<rect x="52.98" y="628.09" width="6.15" height="53.21" fill="none" stroke="#f01818" stroke-width="0.95"/>
<line x1="56.05" y1="628.09" x2="56.05" y2="614.70" stroke="#f01818" stroke-width="0.6"/>
<line x1="54.45" y1="614.70" x2="57.65" y2="614.70" stroke="#f01818" stroke-width="0.6"/>
<circle cx="55.10" cy="617.63" r="0.85" fill="#111"/>
<circle cx="57.00" cy="617.63" r="0.85" fill="#111"/>
<circle cx="56.05" cy="619.36" r="0.85" fill="#111"/>
<circle cx="56.05" cy="630.22" r="0.85" fill="#111"/>
<circle cx="56.05" cy="650.40" r="0.85" fill="#111"/>
<rect x="70.67" y="629.22" width="5.65" height="52.08" fill="none" stroke="#333" stroke-width="0.95"/>
<line x1="73.50" y1="629.22" x2="73.50" y2="614.70" stroke="#333" stroke-width="0.6"/>
<line x1="71.90" y1="614.70" x2="75.10" y2="614.70" stroke="#333" stroke-width="0.6"/>
<circle cx="73.50" cy="616.03" r="0.85" fill="#111"/>
<circle cx="73.50" cy="619.36" r="0.85" fill="#111"/>
<circle cx="73.50" cy="625.36" r="0.85" fill="#111"/>
<circle cx="73.50" cy="640.27" r="0.85" fill="#111"/>
<circle cx="73.50" cy="652.40" r="0.85" fill="#111"/>
<rect x="81.07" y="628.09" width="6.05" height="53.21" fill="none" stroke="#f01818" stroke-width="0.95"/>
<line x1="84.10" y1="628.09" x2="84.10" y2="619.36" stroke="#f01818" stroke-width="0.6"/>
<line x1="82.50" y1="619.36" x2="85.70" y2="619.36" stroke="#f01818" stroke-width="0.6"/>
<circle cx="84.10" cy="622.03" r="0.85" fill="#111"/>
<circle cx="84.10" cy="623.36" r="0.85" fill="#111"/>
<circle cx="84.10" cy="625.36" r="0.85" fill="#111"/>
<circle cx="84.10" cy="641.61" r="0.85" fill="#111"/>
<rect x="98.57" y="644.27" width="5.55" height="37.03" fill="none" stroke="#333" stroke-width="0.95"/>
<line x1="101.35" y1="644.27" x2="101.35" y2="633.35" stroke="#333" stroke-width="0.6"/>
<line x1="99.75" y1="633.35" x2="102.95" y2="633.35" stroke="#333" stroke-width="0.6"/>
<circle cx="101.35" cy="628.49" r="0.85" fill="#111"/>
<circle cx="101.35" cy="646.20" r="0.85" fill="#111"/>
<circle cx="101.35" cy="653.46" r="0.85" fill="#111"/>
<circle cx="101.35" cy="655.39" r="0.85" fill="#111"/>
<rect x="108.77" y="654.39" width="5.85" height="26.91" fill="none" stroke="#f01818" stroke-width="0.95"/>
<line x1="111.70" y1="654.39" x2="111.70" y2="640.27" stroke="#f01818" stroke-width="0.6"/>
<line x1="110.10" y1="640.27" x2="113.30" y2="640.27" stroke="#f01818" stroke-width="0.6"/>
<circle cx="111.70" cy="635.68" r="0.85" fill="#111"/>
<circle cx="111.70" cy="646.93" r="0.85" fill="#111"/>
<circle cx="111.70" cy="651.53" r="0.85" fill="#111"/>
<circle cx="111.70" cy="666.98" r="0.85" fill="#111"/>
<circle cx="111.70" cy="669.58" r="0.85" fill="#111"/>
<text x="221.30" y="590.60" font-size="7.6" font-weight="bold" text-anchor="middle" fill="#000">RS4;11-CDX</text>
<line x1="180.40" y1="682.40" x2="262.70" y2="682.40" stroke="#111" stroke-width="0.8"/>
<line x1="180.40" y1="682.80" x2="180.40" y2="601.60" stroke="#111" stroke-width="0.8"/>
<line x1="192.70" y1="682.40" x2="192.70" y2="684.40" stroke="#111" stroke-width="0.8"/>
<line x1="221.40" y1="682.40" x2="221.40" y2="684.40" stroke="#111" stroke-width="0.8"/>
<line x1="249.60" y1="682.40" x2="249.60" y2="684.40" stroke="#111" stroke-width="0.8"/>
<line x1="178.40" y1="682.40" x2="180.40" y2="682.40" stroke="#111" stroke-width="0.8"/>
<text x="177.40" y="684.49" font-size="5.8" font-weight="bold" text-anchor="end" fill="#111">0</text>
<line x1="178.40" y1="648.55" x2="180.40" y2="648.55" stroke="#111" stroke-width="0.8"/>
<text x="177.40" y="650.64" font-size="5.8" font-weight="bold" text-anchor="end" fill="#111">50</text>
<line x1="178.40" y1="614.70" x2="180.40" y2="614.70" stroke="#111" stroke-width="0.8"/>
<text x="177.40" y="616.79" font-size="5.8" font-weight="bold" text-anchor="end" fill="#111">100</text>
<text x="192.70" y="692.30" font-size="6.25" font-weight="bold" text-anchor="middle" fill="#000">bone</text>
<text x="192.70" y="699.80" font-size="6.25" font-weight="bold" text-anchor="middle" fill="#000">marrow</text>
<text x="221.40" y="692.30" font-size="6.25" font-weight="bold" text-anchor="middle" fill="#000">spleen</text>
<text x="249.60" y="692.30" font-size="6.25" font-weight="bold" text-anchor="middle" fill="#000">blood</text>
<text x="152.20" y="641.00" font-size="6.3" font-weight="bold" text-anchor="middle" fill="#000" transform="rotate(-90 152.2 641.0)">Blast frequency at</text>
<text x="160.30" y="641.00" font-size="6.3" font-weight="bold" text-anchor="middle" fill="#000" transform="rotate(-90 160.3 641.0)">experimental endpoint [%]</text>
<text x="239.10" y="609.30" font-size="6.5" text-anchor="start" fill="#555">vehicle</text>
<text x="239.10" y="616.10" font-size="6.5" text-anchor="start" fill="#f01818">VEN</text>
<rect x="184.78" y="631.08" width="5.65" height="51.32" fill="none" stroke="#333" stroke-width="0.95"/>
<line x1="187.60" y1="631.08" x2="187.60" y2="624.18" stroke="#333" stroke-width="0.6"/>
<line x1="186.00" y1="624.18" x2="189.20" y2="624.18" stroke="#333" stroke-width="0.6"/>
<circle cx="186.65" cy="624.99" r="0.85" fill="#111"/>
<circle cx="188.55" cy="626.21" r="0.85" fill="#111"/>
<circle cx="187.60" cy="633.79" r="0.85" fill="#111"/>
<circle cx="187.60" cy="638.39" r="0.85" fill="#111"/>
<rect x="195.28" y="635.48" width="5.85" height="46.92" fill="none" stroke="#f01818" stroke-width="0.95"/>
<line x1="198.20" y1="635.48" x2="198.20" y2="616.05" stroke="#f01818" stroke-width="0.6"/>
<line x1="196.60" y1="616.05" x2="199.80" y2="616.05" stroke="#f01818" stroke-width="0.6"/>
<circle cx="197.25" cy="621.88" r="0.85" fill="#111"/>
<circle cx="199.15" cy="621.88" r="0.85" fill="#111"/>
<circle cx="198.20" cy="633.11" r="0.85" fill="#111"/>
<circle cx="198.20" cy="663.11" r="0.85" fill="#111"/>
<rect x="212.88" y="666.63" width="6.05" height="15.77" fill="none" stroke="#333" stroke-width="0.95"/>
<line x1="215.90" y1="666.63" x2="215.90" y2="660.74" stroke="#333" stroke-width="0.6"/>
<line x1="214.30" y1="660.74" x2="217.50" y2="660.74" stroke="#333" stroke-width="0.6"/>
<circle cx="214.95" cy="661.41" r="0.85" fill="#111"/>
<circle cx="216.85" cy="661.41" r="0.85" fill="#111"/>
<circle cx="215.90" cy="667.91" r="0.85" fill="#111"/>
<circle cx="215.90" cy="674.48" r="0.85" fill="#111"/>
<rect x="223.78" y="662.29" width="5.65" height="20.11" fill="none" stroke="#f01818" stroke-width="0.95"/>
<line x1="226.60" y1="662.29" x2="226.60" y2="657.01" stroke="#f01818" stroke-width="0.6"/>
<line x1="225.00" y1="657.01" x2="228.20" y2="657.01" stroke="#f01818" stroke-width="0.6"/>
<circle cx="226.60" cy="655.73" r="0.85" fill="#111"/>
<circle cx="226.60" cy="660.06" r="0.85" fill="#111"/>
<circle cx="225.65" cy="664.93" r="0.85" fill="#111"/>
<circle cx="227.55" cy="664.93" r="0.85" fill="#111"/>
<rect x="241.57" y="648.55" width="5.55" height="33.85" fill="none" stroke="#333" stroke-width="0.95"/>
<line x1="244.35" y1="648.55" x2="244.35" y2="641.10" stroke="#333" stroke-width="0.6"/>
<line x1="242.75" y1="641.10" x2="245.95" y2="641.10" stroke="#333" stroke-width="0.6"/>
<circle cx="243.40" cy="641.24" r="0.85" fill="#111"/>
<circle cx="245.30" cy="641.24" r="0.85" fill="#111"/>
<circle cx="244.35" cy="653.49" r="0.85" fill="#111"/>
<circle cx="244.35" cy="656.81" r="0.85" fill="#111"/>
<rect x="251.78" y="651.26" width="5.85" height="31.14" fill="none" stroke="#f01818" stroke-width="0.95"/>
<line x1="254.70" y1="651.26" x2="254.70" y2="646.18" stroke="#f01818" stroke-width="0.6"/>
<line x1="253.10" y1="646.18" x2="256.30" y2="646.18" stroke="#f01818" stroke-width="0.6"/>
<circle cx="254.70" cy="646.18" r="0.85" fill="#111"/>
<circle cx="254.70" cy="648.82" r="0.85" fill="#111"/>
<circle cx="254.70" cy="652.75" r="0.85" fill="#111"/>
<circle cx="254.70" cy="656.81" r="0.85" fill="#111"/>
<defs><filter id="tex" color-interpolation-filters="sRGB" x="-10%" y="-10%" width="120%" height="120%"><feTurbulence type="fractalNoise" baseFrequency="0.13" numOctaves="2" seed="4" result="n"/><feColorMatrix in="n" type="matrix" values="0 0 0 0 0.84  0 0 0 0 0.52  0 0 0 0 0.86  0 0 0 4.0 -2.05" result="lt"/><feColorMatrix in="n" type="matrix" values="0 0 0 0 0.36  0 0 0 0 0.10  0 0 0 0 0.64  -3.6 0 0 0 1.62" result="dk"/><feComposite in="lt" in2="SourceGraphic" operator="in" result="lt2"/><feComposite in="dk" in2="SourceGraphic" operator="in" result="dk2"/><feMerge><feMergeNode in="SourceGraphic"/><feMergeNode in="dk2"/><feMergeNode in="lt2"/></feMerge><feGaussianBlur stdDeviation="0.75"/></filter><filter id="tex2" color-interpolation-filters="sRGB" x="-10%" y="-10%" width="120%" height="120%"><feTurbulence type="fractalNoise" baseFrequency="0.3" numOctaves="2" seed="9" result="n"/><feColorMatrix in="n" type="matrix" values="0 0 0 0 0.95  0 0 0 0 0.75  0 0 0 0 0.97  0 0 0 3.6 -2.05" result="lt"/><feColorMatrix in="n" type="matrix" values="0 0 0 0 0.35  0 0 0 0 0.08  0 0 0 0 0.52  -3.0 0 0 0 1.28" result="dk"/><feComposite in="lt" in2="SourceGraphic" operator="in" result="lt2"/><feComposite in="dk" in2="SourceGraphic" operator="in" result="dk2"/><feMerge><feMergeNode in="SourceGraphic"/><feMergeNode in="dk2"/><feMergeNode in="lt2"/></feMerge><feGaussianBlur stdDeviation="0.5"/></filter><filter id="tex3" color-interpolation-filters="sRGB" x="-10%" y="-10%" width="120%" height="120%"><feTurbulence type="fractalNoise" baseFrequency="0.15" numOctaves="2" seed="6" result="n"/><feColorMatrix in="n" type="matrix" values="0 0 0 0 0.62  0 0 0 0 0.32  0 0 0 0 0.70  0 0 0 2.6 -1.45" result="lt"/><feColorMatrix in="n" type="matrix" values="0 0 0 0 0.28  0 0 0 0 0.10  0 0 0 0 0.50  -2.6 0 0 0 1.2" result="dk"/><feComposite in="lt" in2="SourceGraphic" operator="in" result="lt2"/><feComposite in="dk" in2="SourceGraphic" operator="in" result="dk2"/><feMerge><feMergeNode in="SourceGraphic"/><feMergeNode in="dk2"/><feMergeNode in="lt2"/></feMerge><feGaussianBlur stdDeviation="0.7"/></filter><filter id="soft"><feGaussianBlur stdDeviation="1.2"/></filter><filter id="soft2"><feGaussianBlur stdDeviation="2.5"/></filter><clipPath id="cg1"><rect x="344.8" y="453.2" width="169.7" height="122.6"/></clipPath><clipPath id="cg2"><rect x="514.5" y="453.2" width="169.2" height="122.6"/></clipPath><clipPath id="cg3"><rect x="344.8" y="575.8" width="169.7" height="122.2"/></clipPath><clipPath id="cg4"><rect x="514.5" y="575.8" width="169.2" height="122.2"/></clipPath></defs>
<text x="313.40" y="436.20" font-size="21.3" font-weight="bold" text-anchor="start" fill="#000">G</text>
<text x="429.00" y="443.70" font-size="8.8" font-weight="bold" text-anchor="middle" fill="#000">SEM-CDX</text>
<text x="599.00" y="443.70" font-size="8.8" font-weight="bold" text-anchor="middle" fill="#000">RS4;11-CDX</text>
<text x="308.40" y="514.60" font-size="8.8" font-weight="bold" text-anchor="start" fill="#000">vehicle</text>
<text x="321.00" y="638.00" font-size="8.8" font-weight="bold" text-anchor="start" fill="#000">VEN</text>
<rect x="344.8" y="453.2" width="339" height="244.8" fill="#f2eee0"/>
<g clip-path="url(#cg1)">
<ellipse cx="426" cy="512" rx="14" ry="28" fill="#eddce6" filter="url(#soft2)" transform="rotate(-25 426 512)"/>
<ellipse cx="432" cy="530" rx="10" ry="12" fill="#ead6e4" filter="url(#soft2)"/>
<path d="M398.9,477.1Q401.8,481.5 402.2,486.9Q402.6,492.3 399.2,497.0Q395.8,501.8 390.2,504.2Q384.7,506.5 379.0,506.7Q373.2,506.8 368.1,504.5Q363.0,502.3 359.9,497.9Q356.8,493.5 356.8,488.1Q356.9,482.6 360.5,478.1Q364.1,473.6 369.2,470.6Q374.3,467.6 380.2,467.8Q386.0,468.0 391.0,470.3Q396.0,472.7 398.9,477.1Z" fill="#cbbbe0"/><path d="M397.2,478.0Q399.9,482.0 400.2,486.8Q400.6,491.7 397.4,496.0Q394.3,500.4 389.3,502.5Q384.2,504.7 379.0,504.8Q373.7,504.9 369.1,502.9Q364.4,500.9 361.6,496.9Q358.7,493.0 358.8,488.1Q358.9,483.1 362.2,479.1Q365.5,475.0 370.2,472.3Q374.8,469.5 380.2,469.7Q385.5,469.9 390.1,472.0Q394.6,474.1 397.2,478.0Z" fill="#9a3abe" filter="url(#tex)"/><ellipse cx="373.6" cy="485.4" rx="8" ry="6" fill="#7a30b0" opacity="0.55" filter="url(#soft)"/>
<path d="M385.0,520.8Q385.2,527.2 383.3,533.9Q381.3,540.6 375.8,544.4Q370.2,548.3 363.9,548.1Q357.6,547.9 352.5,544.6Q347.4,541.4 343.8,536.2Q340.3,531.0 340.0,524.3Q339.8,517.6 342.7,511.5Q345.7,505.5 350.9,501.7Q356.1,497.8 362.4,497.0Q368.6,496.2 373.8,499.7Q378.9,503.2 381.9,508.8Q384.8,514.3 385.0,520.8Z" fill="#c6badf"/><path d="M382.6,520.9Q382.8,526.7 381.0,532.7Q379.3,538.7 374.3,542.2Q369.3,545.7 363.7,545.5Q358.1,545.3 353.6,542.4Q349.1,539.5 345.9,534.9Q342.8,530.2 342.6,524.2Q342.4,518.1 345.0,512.7Q347.6,507.2 352.3,503.8Q356.9,500.3 362.5,499.6Q368.0,498.9 372.6,502.0Q377.2,505.1 379.8,510.1Q382.4,515.1 382.6,520.9Z" fill="#9836bc" filter="url(#tex)"/>
<path d="M411.6,512.1Q412.7,516.5 411.3,520.7Q410.0,524.9 406.9,527.8Q403.8,530.7 399.8,531.8Q395.8,532.9 391.7,532.0Q387.7,531.0 384.8,527.9Q381.9,524.8 380.5,520.6Q379.0,516.5 379.8,512.0Q380.7,507.5 384.2,504.8Q387.8,502.2 391.8,501.2Q395.8,500.2 399.9,501.1Q403.9,502.0 407.3,504.9Q410.6,507.7 411.6,512.1Z" fill="#bcaed8"/><path d="M410.3,512.5Q411.2,516.5 410.0,520.4Q408.8,524.2 405.9,526.9Q403.1,529.5 399.4,530.5Q395.8,531.5 392.1,530.7Q388.4,529.8 385.7,527.0Q383.1,524.1 381.8,520.3Q380.4,516.5 381.2,512.4Q382.0,508.2 385.2,505.8Q388.5,503.4 392.1,502.5Q395.8,501.6 399.5,502.4Q403.2,503.2 406.3,505.8Q409.4,508.4 410.3,512.5Z" fill="#6a2cb0" filter="url(#tex)"/><ellipse cx="390.8" cy="511.5" rx="7" ry="5" fill="#3a1890" opacity="0.55" filter="url(#soft)"/>
<path d="M477.5,527.0Q476.8,532.1 473.5,536.3Q470.2,540.5 465.8,542.2Q461.5,543.8 457.3,543.4Q453.1,543.0 449.8,540.3Q446.4,537.7 445.0,533.0Q443.5,528.4 445.1,523.2Q446.6,518.1 449.8,513.9Q452.9,509.8 457.2,507.7Q461.5,505.7 465.7,506.3Q469.9,507.0 472.8,510.1Q475.6,513.1 477.0,517.5Q478.3,521.8 477.5,527.0Z" fill="#cdbfe0"/><path d="M475.3,526.6Q474.5,531.1 471.7,534.8Q468.8,538.5 465.0,540.0Q461.3,541.5 457.7,541.2Q454.1,540.8 451.3,538.6Q448.4,536.3 447.2,532.2Q446.0,528.2 447.4,523.6Q448.8,519.1 451.6,515.4Q454.3,511.7 458.0,509.9Q461.7,508.1 465.3,508.6Q468.9,509.1 471.3,511.8Q473.8,514.4 474.9,518.2Q476.0,522.0 475.3,526.6Z" fill="#9a38bc" filter="url(#tex)"/>
<path d="M508.5,529.7Q509.5,534.5 508.3,539.1Q507.1,543.8 504.1,547.6Q501.0,551.5 496.3,552.4Q491.5,553.4 486.9,552.1Q482.3,550.9 478.7,547.6Q475.1,544.2 474.0,539.4Q472.9,534.5 474.3,529.8Q475.7,525.1 479.2,522.1Q482.8,519.0 487.1,517.1Q491.5,515.3 496.3,516.4Q501.1,517.5 504.4,521.2Q507.6,524.9 508.5,529.7Z" fill="#cebfe0"/><path d="M506.3,530.3Q507.1,534.5 506.1,538.5Q505.1,542.6 502.5,546.0Q499.8,549.3 495.7,550.2Q491.5,551.0 487.5,549.9Q483.5,548.8 480.4,545.9Q477.2,543.0 476.3,538.7Q475.3,534.5 476.5,530.4Q477.8,526.3 480.8,523.6Q483.9,521.0 487.7,519.3Q491.5,517.7 495.7,518.7Q499.8,519.6 502.7,522.9Q505.5,526.2 506.3,530.3Z" fill="#9a3abe" filter="url(#tex)"/>
<circle cx="404.6" cy="472.5" r="4.4" fill="#c8bde0"/><circle cx="404.2" cy="472" r="2.4" fill="#7a50b0"/>
</g>
<g clip-path="url(#cg2)">
<ellipse cx="676" cy="462" rx="10" ry="16" fill="#e6d0e2" filter="url(#soft2)"/>
<path d="M549.6,517.7Q550.7,523.6 549.6,529.6Q548.6,535.5 544.8,540.7Q541.0,545.8 534.7,547.1Q528.5,548.4 522.6,546.5Q516.7,544.7 512.5,540.1Q508.3,535.6 506.5,529.6Q504.6,523.6 506.6,517.7Q508.6,511.8 512.5,507.0Q516.5,502.2 522.5,500.1Q528.5,497.9 534.6,499.9Q540.7,501.9 544.5,506.8Q548.4,511.8 549.6,517.7Z" fill="#8a70bc"/><path d="M548.5,518.0Q549.6,523.6 548.6,529.3Q547.6,534.9 543.9,539.8Q540.3,544.7 534.4,546.0Q528.5,547.2 522.9,545.4Q517.3,543.7 513.3,539.3Q509.3,535.0 507.6,529.3Q505.8,523.6 507.7,518.0Q509.6,512.3 513.3,507.8Q517.1,503.2 522.8,501.2Q528.5,499.2 534.3,501.1Q540.0,503.0 543.7,507.7Q547.4,512.4 548.5,518.0Z" fill="#6c2c96" filter="url(#tex3)"/>
<path d="M618.9,508.5Q621.1,512.5 620.4,517.0Q619.6,521.5 616.1,524.7Q612.7,527.9 608.4,529.5Q604.0,531.2 599.2,531.4Q594.3,531.6 590.4,528.9Q586.5,526.2 584.7,522.0Q582.9,517.9 583.9,513.5Q584.9,509.2 587.8,505.6Q590.6,502.1 595.0,500.3Q599.4,498.4 604.3,498.8Q609.1,499.2 612.9,501.9Q616.8,504.5 618.9,508.5Z" fill="#8a70bc"/><path d="M618.0,508.9Q620.1,512.6 619.4,516.9Q618.7,521.2 615.4,524.2Q612.1,527.2 608.0,528.7Q603.9,530.2 599.3,530.4Q594.7,530.6 591.0,528.1Q587.3,525.6 585.6,521.6Q583.9,517.7 584.9,513.6Q585.8,509.5 588.5,506.2Q591.2,502.9 595.4,501.1Q599.6,499.4 604.2,499.8Q608.7,500.1 612.4,502.6Q616.0,505.1 618.0,508.9Z" fill="#62288e" filter="url(#tex3)"/>
<path d="M656.0,513.8Q659.0,518.7 658.4,524.5Q657.9,530.4 654.4,534.8Q651.0,539.2 646.1,541.4Q641.2,543.6 636.0,543.0Q630.7,542.4 625.7,539.8Q620.7,537.2 618.4,531.7Q616.0,526.3 616.9,520.6Q617.7,514.9 620.9,510.3Q624.0,505.8 628.9,503.5Q633.7,501.2 639.2,501.5Q644.6,501.7 648.8,505.3Q653.0,508.9 656.0,513.8Z" fill="#d0b4d6"/><path d="M652.8,515.3Q655.3,519.4 654.9,524.2Q654.4,529.1 651.5,532.8Q648.7,536.5 644.7,538.3Q640.6,540.2 636.3,539.7Q631.9,539.1 627.8,536.9Q623.6,534.7 621.7,530.2Q619.7,525.6 620.4,520.9Q621.1,516.1 623.7,512.3Q626.3,508.5 630.3,506.6Q634.4,504.7 638.9,504.9Q643.4,505.1 646.9,508.1Q650.4,511.2 652.8,515.3Z" fill="#8c4aa6" filter="url(#tex2)"/>
<path d="M680.4,488.5Q681.7,494.0 679.2,498.9Q676.7,503.7 673.0,507.5Q669.4,511.2 664.2,513.3Q659.0,515.4 653.4,513.9Q647.9,512.4 643.9,508.4Q639.9,504.5 638.6,499.3Q637.3,494.0 639.0,488.9Q640.6,483.9 644.5,480.1Q648.3,476.3 653.6,474.9Q659.0,473.5 664.5,474.7Q669.9,476.0 674.4,479.5Q679.0,483.0 680.4,488.5Z" fill="#8a70bc"/><path d="M679.4,488.8Q680.7,494.0 678.3,498.6Q675.9,503.3 672.4,506.8Q668.9,510.4 664.0,512.4Q659.0,514.4 653.7,512.9Q648.4,511.5 644.6,507.8Q640.7,504.0 639.5,499.0Q638.3,494.0 639.9,489.2Q641.5,484.4 645.1,480.8Q648.8,477.1 653.9,475.8Q659.0,474.5 664.2,475.7Q669.4,476.8 673.7,480.2Q678.0,483.5 679.4,488.8Z" fill="#652a90" filter="url(#tex3)"/>
</g>
<g clip-path="url(#cg3)">
<path d="M344 674 Q370 672 388 684 Q396 692 396 700 L344 700Z" fill="#e4c4e0" filter="url(#soft)"/>
<circle cx="350" cy="683" r="1.4" fill="#f4eef0" opacity="0.8"/>
<circle cx="356" cy="689" r="1.7" fill="#f4eef0" opacity="0.8"/>
<circle cx="362" cy="681" r="1.2" fill="#f4eef0" opacity="0.8"/>
<circle cx="367" cy="691" r="1.5" fill="#f4eef0" opacity="0.8"/>
<circle cx="373" cy="686" r="1.2" fill="#f4eef0" opacity="0.8"/>
<circle cx="379" cy="693" r="1.4" fill="#f4eef0" opacity="0.8"/>
<circle cx="348" cy="694" r="1.4" fill="#f4eef0" opacity="0.8"/>
<circle cx="385" cy="690" r="1.1" fill="#f4eef0" opacity="0.8"/>
<circle cx="358" cy="696" r="1.3" fill="#f4eef0" opacity="0.8"/>
<ellipse cx="500" cy="604" rx="9" ry="8" fill="#dccbe6"/>
<path d="M507.1,590.4Q508.5,594.8 507.0,599.1Q505.4,603.4 501.3,607.0Q497.1,610.7 490.7,613.0Q484.4,615.2 477.5,614.6Q470.5,614.0 465.6,611.2Q460.6,608.4 458.7,604.3Q456.9,600.2 458.0,595.9Q459.2,591.5 463.3,587.7Q467.5,583.9 474.1,582.1Q480.7,580.2 487.4,580.8Q494.1,581.4 500.0,583.7Q505.8,586.0 507.1,590.4Z" fill="#dccbe6"/><path d="M504.8,591.3Q506.0,595.0 504.6,598.7Q503.1,602.4 499.4,605.5Q495.6,608.6 489.8,610.6Q484.1,612.5 477.9,612.1Q471.6,611.6 467.2,609.2Q462.7,606.8 461.0,603.4Q459.4,599.9 460.5,596.2Q461.5,592.6 465.3,589.3Q469.0,586.1 475.0,584.5Q481.0,582.9 487.0,583.3Q493.1,583.8 498.3,585.7Q503.6,587.6 504.8,591.3Z" fill="#a346c8" filter="url(#tex)"/>
<ellipse cx="477" cy="646" rx="12" ry="9" fill="#dccbe4"/>
<ellipse cx="448" cy="628" rx="4" ry="5" fill="#dccbe4"/>
<path d="M489.1,627.1Q489.5,631.2 487.4,634.6Q485.2,638.1 481.4,640.5Q477.5,643.0 472.2,643.5Q466.9,644.1 461.7,642.6Q456.4,641.1 452.8,637.9Q449.2,634.7 448.0,630.7Q446.7,626.7 449.0,623.2Q451.3,619.7 455.6,617.6Q459.8,615.5 464.9,615.1Q470.0,614.7 475.5,615.6Q481.0,616.5 484.8,619.7Q488.7,623.0 489.1,627.1Z" fill="#dccbe6"/><path d="M487.0,627.5Q487.4,631.0 485.4,633.9Q483.5,636.8 480.1,638.9Q476.6,641.0 471.9,641.5Q467.1,641.9 462.4,640.6Q457.7,639.3 454.5,636.6Q451.2,633.8 450.1,630.4Q449.0,626.9 451.0,624.0Q453.1,621.0 456.9,619.2Q460.6,617.4 465.2,617.1Q469.8,616.8 474.7,617.5Q479.6,618.3 483.1,621.1Q486.6,624.0 487.0,627.5Z" fill="#a044c6" filter="url(#tex)"/>
<ellipse cx="360" cy="640" rx="9" ry="6" fill="#dccbe4" transform="rotate(-30 360 640)"/>
<path d="M384.7,641.3Q390.3,646.2 393.6,652.3Q396.9,658.5 398.1,664.9Q399.3,671.3 396.7,676.3Q394.2,681.4 389.1,683.7Q383.9,686.1 377.4,684.9Q370.8,683.6 364.8,679.1Q358.7,674.7 355.2,668.2Q351.8,661.6 351.6,655.3Q351.4,649.1 353.9,644.2Q356.4,639.4 361.1,636.3Q365.9,633.3 372.5,634.8Q379.2,636.4 384.7,641.3Z" fill="#d8c8e4"/><path d="M383.3,643.6Q388.3,648.0 391.3,653.5Q394.3,659.0 395.5,664.7Q396.6,670.4 394.5,674.8Q392.4,679.3 387.8,681.3Q383.3,683.3 377.5,682.1Q371.7,680.9 366.3,676.8Q360.8,672.8 357.7,666.9Q354.5,661.1 354.2,655.5Q354.0,649.9 356.1,645.6Q358.2,641.4 362.4,638.8Q366.5,636.1 372.4,637.6Q378.3,639.1 383.3,643.6Z" fill="#a246c8" filter="url(#tex)"/>
<ellipse cx="411" cy="662" rx="5" ry="9" fill="#dccbe4"/>
<path d="M458.3,655.4Q460.9,661.6 459.9,668.1Q459.0,674.6 455.4,679.9Q451.8,685.2 446.0,687.5Q440.2,689.9 434.1,689.2Q428.0,688.5 422.4,685.4Q416.8,682.4 413.8,676.4Q410.8,670.4 411.5,663.8Q412.2,657.1 416.5,652.4Q420.9,647.7 426.4,645.1Q431.8,642.4 438.1,642.3Q444.4,642.2 450.1,645.7Q455.7,649.2 458.3,655.4Z" fill="#dccbe6"/><path d="M455.4,656.8Q457.7,662.2 456.8,667.8Q456.0,673.5 452.9,678.1Q449.8,682.8 444.7,684.8Q439.7,686.8 434.4,686.2Q429.1,685.6 424.2,683.0Q419.3,680.3 416.7,675.1Q414.1,669.9 414.7,664.0Q415.2,658.2 419.0,654.1Q422.9,650.0 427.6,647.7Q432.4,645.4 437.8,645.3Q443.3,645.2 448.2,648.3Q453.1,651.3 455.4,656.8Z" fill="#a044c6" filter="url(#tex)"/>
<circle cx="497.7" cy="610.6" r="2.0" fill="#e4d6ec" stroke="#cbb6dc" stroke-width="0.4"/><circle cx="458.5" cy="602.1" r="2.3" fill="#e4d6ec" stroke="#cbb6dc" stroke-width="0.4"/><circle cx="490.1" cy="581.3" r="1.8" fill="#e4d6ec" stroke="#cbb6dc" stroke-width="0.4"/><circle cx="486.1" cy="611.9" r="1.6" fill="#e4d6ec" stroke="#cbb6dc" stroke-width="0.4"/><circle cx="461.3" cy="592.0" r="2.3" fill="#e4d6ec" stroke="#cbb6dc" stroke-width="0.4"/><circle cx="486.8" cy="612.5" r="1.1" fill="#e4d6ec" stroke="#cbb6dc" stroke-width="0.4"/><circle cx="509.5" cy="594.4" r="2.4" fill="#e4d6ec" stroke="#cbb6dc" stroke-width="0.4"/><circle cx="463.9" cy="589.5" r="1.5" fill="#e4d6ec" stroke="#cbb6dc" stroke-width="0.4"/><circle cx="458.6" cy="600.2" r="2.5" fill="#e4d6ec" stroke="#cbb6dc" stroke-width="0.4"/><circle cx="467.3" cy="610.3" r="2.3" fill="#e4d6ec" stroke="#cbb6dc" stroke-width="0.4"/><circle cx="497.9" cy="605.0" r="0.7" fill="#f0e2f0" opacity="0.85"/><circle cx="472.1" cy="596.4" r="0.7" fill="#f0e2f0" opacity="0.85"/><circle cx="485.0" cy="600.6" r="0.8" fill="#f0e2f0" opacity="0.85"/><circle cx="485.4" cy="608.5" r="0.6" fill="#f0e2f0" opacity="0.85"/><circle cx="501.7" cy="593.0" r="0.8" fill="#f0e2f0" opacity="0.85"/><circle cx="482.7" cy="588.2" r="0.8" fill="#f0e2f0" opacity="0.85"/>
<circle cx="487.5" cy="627.4" r="1.0" fill="#e4d6ec" stroke="#cbb6dc" stroke-width="0.4"/><circle cx="488.0" cy="630.9" r="1.2" fill="#e4d6ec" stroke="#cbb6dc" stroke-width="0.4"/><circle cx="458.0" cy="616.2" r="2.4" fill="#e4d6ec" stroke="#cbb6dc" stroke-width="0.4"/><circle cx="469.4" cy="645.2" r="1.5" fill="#e4d6ec" stroke="#cbb6dc" stroke-width="0.4"/><circle cx="451.3" cy="617.6" r="2.1" fill="#e4d6ec" stroke="#cbb6dc" stroke-width="0.4"/><circle cx="488.5" cy="624.0" r="1.1" fill="#e4d6ec" stroke="#cbb6dc" stroke-width="0.4"/><circle cx="485.1" cy="620.5" r="1.5" fill="#e4d6ec" stroke="#cbb6dc" stroke-width="0.4"/><circle cx="475.1" cy="644.5" r="1.9" fill="#e4d6ec" stroke="#cbb6dc" stroke-width="0.4"/><circle cx="482.2" cy="626.5" r="0.9" fill="#f0e2f0" opacity="0.85"/><circle cx="456.7" cy="623.9" r="0.7" fill="#f0e2f0" opacity="0.85"/><circle cx="466.4" cy="640.7" r="0.6" fill="#f0e2f0" opacity="0.85"/><circle cx="473.0" cy="617.7" r="0.8" fill="#f0e2f0" opacity="0.85"/><circle cx="477.0" cy="638.3" r="0.8" fill="#f0e2f0" opacity="0.85"/><circle cx="470.1" cy="632.3" r="0.7" fill="#f0e2f0" opacity="0.85"/>
<circle cx="380.4" cy="636.5" r="2.4" fill="#e4d6ec" stroke="#cbb6dc" stroke-width="0.4"/><circle cx="397.9" cy="658.6" r="1.7" fill="#e4d6ec" stroke="#cbb6dc" stroke-width="0.4"/><circle cx="357.9" cy="668.8" r="1.3" fill="#e4d6ec" stroke="#cbb6dc" stroke-width="0.4"/><circle cx="367.6" cy="678.9" r="1.7" fill="#e4d6ec" stroke="#cbb6dc" stroke-width="0.4"/><circle cx="391.4" cy="650.6" r="2.1" fill="#e4d6ec" stroke="#cbb6dc" stroke-width="0.4"/><circle cx="370.6" cy="682.0" r="2.2" fill="#e4d6ec" stroke="#cbb6dc" stroke-width="0.4"/><circle cx="379.5" cy="682.6" r="2.3" fill="#e4d6ec" stroke="#cbb6dc" stroke-width="0.4"/><circle cx="351.5" cy="660.5" r="2.0" fill="#e4d6ec" stroke="#cbb6dc" stroke-width="0.4"/><circle cx="386.2" cy="643.2" r="2.2" fill="#e4d6ec" stroke="#cbb6dc" stroke-width="0.4"/><circle cx="378.6" cy="684.9" r="2.1" fill="#e4d6ec" stroke="#cbb6dc" stroke-width="0.4"/><circle cx="385.4" cy="682.5" r="1.8" fill="#e4d6ec" stroke="#cbb6dc" stroke-width="0.4"/><circle cx="362.7" cy="649.9" r="0.7" fill="#f0e2f0" opacity="0.85"/><circle cx="367.5" cy="657.6" r="0.6" fill="#f0e2f0" opacity="0.85"/><circle cx="382.2" cy="677.7" r="0.6" fill="#f0e2f0" opacity="0.85"/><circle cx="381.2" cy="660.9" r="0.5" fill="#f0e2f0" opacity="0.85"/><circle cx="384.0" cy="672.8" r="0.8" fill="#f0e2f0" opacity="0.85"/><circle cx="378.9" cy="670.7" r="0.6" fill="#f0e2f0" opacity="0.85"/>
<circle cx="425.7" cy="642.0" r="1.3" fill="#e4d6ec" stroke="#cbb6dc" stroke-width="0.4"/><circle cx="458.1" cy="661.8" r="2.1" fill="#e4d6ec" stroke="#cbb6dc" stroke-width="0.4"/><circle cx="459.2" cy="676.1" r="1.2" fill="#e4d6ec" stroke="#cbb6dc" stroke-width="0.4"/><circle cx="425.1" cy="642.9" r="2.2" fill="#e4d6ec" stroke="#cbb6dc" stroke-width="0.4"/><circle cx="414.0" cy="679.5" r="2.6" fill="#e4d6ec" stroke="#cbb6dc" stroke-width="0.4"/><circle cx="456.5" cy="678.9" r="2.5" fill="#e4d6ec" stroke="#cbb6dc" stroke-width="0.4"/><circle cx="430.2" cy="642.5" r="1.5" fill="#e4d6ec" stroke="#cbb6dc" stroke-width="0.4"/><circle cx="455.6" cy="655.9" r="2.2" fill="#e4d6ec" stroke="#cbb6dc" stroke-width="0.4"/><circle cx="444.9" cy="645.1" r="1.5" fill="#e4d6ec" stroke="#cbb6dc" stroke-width="0.4"/><circle cx="431.9" cy="690.3" r="1.6" fill="#e4d6ec" stroke="#cbb6dc" stroke-width="0.4"/><circle cx="453.2" cy="646.3" r="1.5" fill="#e4d6ec" stroke="#cbb6dc" stroke-width="0.4"/><circle cx="450.7" cy="649.4" r="1.2" fill="#e4d6ec" stroke="#cbb6dc" stroke-width="0.4"/><circle cx="425.0" cy="652.8" r="0.8" fill="#f0e2f0" opacity="0.85"/><circle cx="453.4" cy="662.0" r="0.6" fill="#f0e2f0" opacity="0.85"/><circle cx="431.8" cy="647.2" r="0.5" fill="#f0e2f0" opacity="0.85"/><circle cx="429.1" cy="667.5" r="0.6" fill="#f0e2f0" opacity="0.85"/><circle cx="421.7" cy="670.5" r="0.9" fill="#f0e2f0" opacity="0.85"/><circle cx="445.9" cy="673.7" r="0.9" fill="#f0e2f0" opacity="0.85"/>
</g>
<g clip-path="url(#cg4)">
<ellipse cx="591" cy="640" rx="54" ry="58" fill="#f2eaf0" filter="url(#soft2)"/>
<ellipse cx="682" cy="600" rx="6" ry="22" fill="#e6cce0" filter="url(#soft2)"/>
<ellipse cx="574" cy="596" rx="9" ry="6" fill="#d8b8dc" filter="url(#soft)"/>
<path d="M593.6,666.9Q594.8,672.0 593.5,677.1Q592.3,682.1 589.0,685.9Q585.7,689.7 581.1,690.9Q576.5,692.0 572.2,690.3Q567.9,688.5 564.6,685.1Q561.4,681.7 559.5,676.9Q557.6,672.0 559.0,666.8Q560.4,661.7 564.0,658.2Q567.5,654.7 572.0,653.8Q576.5,652.9 580.9,654.0Q585.3,655.0 588.8,658.4Q592.3,661.8 593.6,666.9Z" fill="#e0cce4"/><path d="M591.7,667.4Q592.8,672.0 591.6,676.5Q590.5,681.1 587.6,684.5Q584.7,687.9 580.6,689.0Q576.5,690.0 572.7,688.4Q568.9,686.9 566.0,683.8Q563.0,680.7 561.4,676.4Q559.7,672.0 560.9,667.4Q562.2,662.7 565.3,659.6Q568.5,656.4 572.5,655.6Q576.5,654.8 580.4,655.8Q584.3,656.7 587.5,659.8Q590.6,662.9 591.7,667.4Z" fill="#b478c0" filter="url(#tex2)"/>
<path d="M632.6,650.1Q634.7,656.2 634.0,663.2Q633.4,670.2 628.2,674.5Q622.9,678.9 616.8,680.6Q610.6,682.3 604.5,680.4Q598.4,678.6 593.7,674.0Q589.0,669.4 587.3,662.8Q585.6,656.2 587.6,649.8Q589.6,643.4 593.8,638.2Q598.0,633.1 604.3,631.0Q610.6,629.0 616.5,631.7Q622.5,634.4 626.5,639.2Q630.5,644.0 632.6,650.1Z" fill="#c8b6da"/><path d="M631.2,650.5Q633.1,656.2 632.5,662.8Q631.9,669.3 627.0,673.4Q622.1,677.5 616.4,679.1Q610.6,680.7 604.9,678.9Q599.2,677.2 594.8,672.9Q590.4,668.6 588.8,662.4Q587.2,656.2 589.1,650.2Q591.0,644.1 594.9,639.3Q598.8,634.5 604.7,632.6Q610.6,630.7 616.1,633.2Q621.7,635.7 625.5,640.2Q629.2,644.8 631.2,650.5Z" fill="#7a3aa0" filter="url(#tex2)"/>
<path d="M638.6,602.8Q639.7,608.8 637.6,614.2Q635.4,619.6 631.4,623.7Q627.3,627.7 621.7,629.4Q616.0,631.0 610.1,629.7Q604.2,628.5 600.3,624.1Q596.3,619.8 594.5,614.3Q592.6,608.8 594.1,603.1Q595.7,597.5 600.3,593.9Q604.9,590.2 610.4,588.7Q616.0,587.2 621.8,588.4Q627.5,589.5 632.5,593.2Q637.4,596.8 638.6,602.8Z" fill="#c8b6da"/><path d="M637.2,603.2Q638.3,608.8 636.3,613.9Q634.2,618.9 630.4,622.7Q626.6,626.6 621.3,628.1Q616.0,629.6 610.5,628.4Q604.9,627.3 601.2,623.2Q597.5,619.1 595.8,613.9Q594.0,608.8 595.4,603.5Q596.9,598.2 601.2,594.8Q605.6,591.4 610.8,590.0Q616.0,588.5 621.4,589.6Q626.8,590.7 631.5,594.2Q636.2,597.6 637.2,603.2Z" fill="#763a9e" filter="url(#tex2)"/>
<path d="M592.2,621.1Q593.0,627.5 591.8,633.7Q590.5,639.8 586.1,644.5Q581.6,649.2 575.3,650.8Q569.0,652.4 562.8,650.5Q556.7,648.7 551.9,644.3Q547.2,640.0 545.4,633.8Q543.7,627.5 545.8,621.4Q547.9,615.4 552.6,611.4Q557.2,607.3 563.1,604.8Q569.0,602.4 575.5,603.8Q582.0,605.1 586.7,609.9Q591.4,614.7 592.2,621.1Z" fill="#a898c6"/><path d="M590.2,621.7Q590.9,627.5 589.8,633.1Q588.6,638.7 584.6,643.0Q580.5,647.3 574.8,648.7Q569.0,650.2 563.4,648.5Q557.8,646.8 553.4,642.8Q549.1,638.9 547.5,633.2Q545.9,627.5 547.8,622.0Q549.7,616.5 554.0,612.8Q558.3,609.1 563.6,606.9Q569.0,604.6 574.9,605.9Q580.9,607.1 585.1,611.5Q589.4,615.8 590.2,621.7Z" fill="#70329a" filter="url(#tex2)"/>
</g>
<rect x="344.8" y="453.2" width="339" height="244.8" fill="none" stroke="#8a8a8a" stroke-width="0.9"/>
<line x1="514.50" y1="453.20" x2="514.50" y2="698.00" stroke="#555" stroke-width="0.9"/>
<line x1="344.80" y1="575.80" x2="683.80" y2="575.80" stroke="#8a8a8a" stroke-width="0.9"/>
</svg></body></html>
